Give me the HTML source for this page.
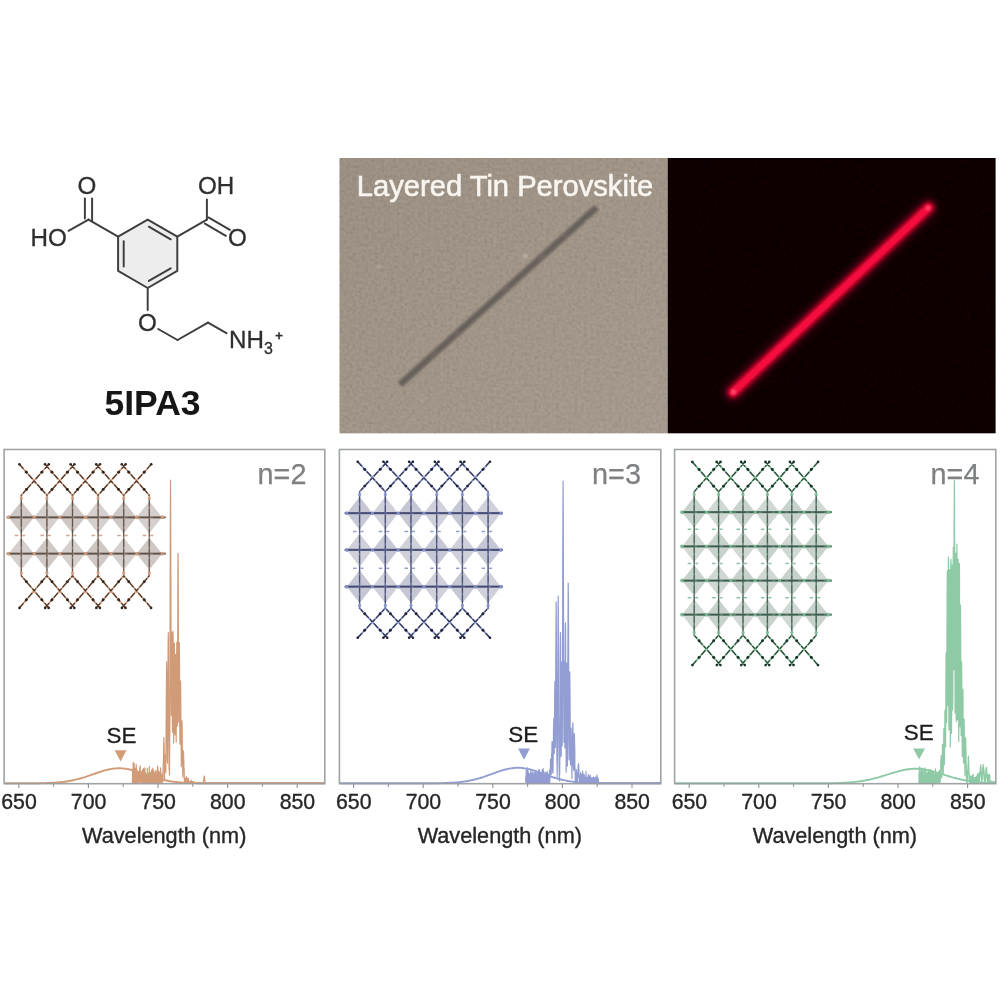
<!DOCTYPE html>
<html lang="en"><head><meta charset="utf-8"><title>Layered Tin Perovskite 5IPA3</title>
<style>html,body{margin:0;padding:0;background:#fff;}body{width:1000px;height:995px;overflow:hidden;}svg{display:block;}</style>
</head><body>
<svg width="1000" height="995" viewBox="0 0 1000 995">
<defs>
<linearGradient id="tanGrad" x1="0" y1="0" x2="1" y2="1"><stop offset="0" stop-color="#000" stop-opacity="0.035"/><stop offset="0.5" stop-color="#000" stop-opacity="0"/><stop offset="0.5" stop-color="#fff" stop-opacity="0"/><stop offset="1" stop-color="#fff" stop-opacity="0.05"/></linearGradient>
<filter id="b04" x="-5%" y="-20%" width="110%" height="140%"><feGaussianBlur stdDeviation="0.4"/></filter>
<filter id="b055" x="-2%" y="-2%" width="104%" height="104%"><feGaussianBlur stdDeviation="0.7"/></filter>
<filter id="b05p" x="-2%" y="-2%" width="104%" height="104%"><feGaussianBlur stdDeviation="0.55"/></filter>
<filter id="b05" x="-5%" y="-5%" width="110%" height="110%"><feGaussianBlur stdDeviation="0.5"/></filter>
<filter id="b06" x="-5%" y="-5%" width="110%" height="110%"><feGaussianBlur stdDeviation="0.75"/></filter>
<filter id="b08" x="-20%" y="-20%" width="140%" height="140%"><feGaussianBlur stdDeviation="0.8"/></filter>
<filter id="b1" x="-20%" y="-20%" width="140%" height="140%"><feGaussianBlur stdDeviation="1.0"/></filter>
<filter id="b2" x="-20%" y="-20%" width="140%" height="140%"><feGaussianBlur stdDeviation="2.2"/></filter>
<filter id="b5" x="-30%" y="-30%" width="160%" height="160%"><feGaussianBlur stdDeviation="5"/></filter>
<filter id="grainT" color-interpolation-filters="sRGB" x="0" y="0" width="100%" height="100%"><feTurbulence type="fractalNoise" baseFrequency="0.32" numOctaves="2" seed="3" result="n"/><feColorMatrix in="n" type="matrix" values="0 0 0 0 0.54  0 0 0 0 0.50  0 0 0 0 0.45  1.2 1.2 1.2 0 -1.45"/><feComposite in2="SourceGraphic" operator="in"/></filter>
<filter id="grainD" color-interpolation-filters="sRGB" x="0" y="0" width="100%" height="100%"><feTurbulence type="fractalNoise" baseFrequency="0.4" numOctaves="2" seed="8" result="n"/><feColorMatrix in="n" type="matrix" values="0 0 0 0 0.13  0 0 0 0 0.01  0 0 0 0 0.03  2.0 1.0 1.0 0 -1.7"/><feComposite in2="SourceGraphic" operator="in"/></filter>
</defs>
<rect width="1000" height="995" fill="#ffffff"/>
<g filter="url(#b055)">
<polygon points="147.7,219.6 177.3,236.7 177.3,270.9 147.7,288.0 118.1,270.9 118.1,236.7" fill="#ededed" stroke="#3d3d3d" stroke-width="1.95" stroke-linejoin="round"/>
<g stroke="#3d3d3d" stroke-width="1.95" stroke-linecap="round" fill="none">
<line x1="148.8" y1="226.7" x2="170.7" y2="239.3"/>
<line x1="170.7" y1="268.3" x2="148.8" y2="280.9"/>
<line x1="123.7" y1="266.5" x2="123.7" y2="241.1"/>
<line x1="118.1" y1="236.7" x2="88.5" y2="219.6"/>
<line x1="84.9" y1="218.6" x2="84.9" y2="198.5"/>
<line x1="92.1" y1="221.1" x2="92.1" y2="198.5"/>
<line x1="88.5" y1="219.6" x2="68.5" y2="230.8"/>
<line x1="177.3" y1="236.7" x2="206.9" y2="219.6"/>
<line x1="206.9" y1="219.6" x2="206.9" y2="199.5"/>
<line x1="208.4" y1="217.4" x2="229.9" y2="229.8"/>
<line x1="204.9" y1="223.6" x2="225.9" y2="235.8"/>
<line x1="147.7" y1="288.0" x2="147.7" y2="310.0"/>
<line x1="158.2" y1="329.0" x2="177.5" y2="340.0"/>
<line x1="177.5" y1="340.0" x2="208.0" y2="322.6"/>
<line x1="208.0" y1="322.6" x2="226.5" y2="333.2"/>
</g>
<g font-family='"Liberation Sans", Arial, Helvetica, sans-serif' font-size="24.2" fill="#2e2e2e" stroke="#2e2e2e" stroke-width="0.3">
<text x="86.8" y="194.3" text-anchor="middle">O</text>
<text x="30.6" y="246.2">HO</text>
<text x="198.0" y="194.4">OH</text>
<text x="237.5" y="246.0" text-anchor="middle">O</text>
<text x="147.5" y="331.0" text-anchor="middle">O</text>
<text x="229" y="348">NH<tspan font-size="16" dy="6">3</tspan><tspan font-size="13" font-weight="bold" dy="-14.5" dx="2.5">+</tspan></text>
</g>
<text x="152.5" y="415" text-anchor="middle" font-family='"Liberation Sans", Arial, Helvetica, sans-serif' font-weight="bold" font-size="35.5" fill="#151515">5IPA3</text>
</g>
<g filter="url(#b05p)">
<rect x="339.5" y="158.0" width="328.2" height="275.3" fill="#a5998c"/>
<rect x="339.5" y="158.0" width="328.2" height="275.3" fill="#9b9084" filter="url(#grainT)" opacity="0.5"/>
<rect x="339.5" y="158.0" width="328.2" height="275.3" fill="url(#tanGrad)"/>
<rect x="667.7" y="158.0" width="327.9" height="275.3" fill="#0a0103"/>
<rect x="669.7" y="160.0" width="323.9" height="271.3" fill="#0b0204" filter="url(#grainD)" opacity="0.55"/>
<g filter="url(#b08)">
<line x1="400.0" y1="384.6" x2="596.6" y2="207.4" stroke="#6f6861" stroke-width="7.0" stroke-linecap="butt"/>
<line x1="400.0" y1="384.6" x2="596.6" y2="207.4" stroke="#5d5751" stroke-width="2.0" stroke-linecap="butt" stroke-dasharray="40 9 25 5 60 7" opacity="0.7"/>
</g>
<circle cx="525.5" cy="256.0" r="2.2" fill="#d8d2c8" opacity="0.50" filter="url(#b08)"/>
<circle cx="378.5" cy="266.5" r="2.2" fill="#d8d2c8" opacity="0.25" filter="url(#b08)"/>
<circle cx="629.5" cy="242.5" r="1.4" fill="#d8d2c8" opacity="0.35" filter="url(#b08)"/>
<circle cx="421.5" cy="400.0" r="1.6" fill="#d8d2c8" opacity="0.30" filter="url(#b08)"/>
<circle cx="403.5" cy="398.0" r="1.3" fill="#d8d2c8" opacity="0.25" filter="url(#b08)"/>
<circle cx="587.0" cy="221.0" r="1.5" fill="#d8d2c8" opacity="0.20" filter="url(#b08)"/>
<text x="356.8" y="195.6" font-family='"Liberation Sans", Arial, Helvetica, sans-serif' font-size="29.15" fill="#f8f5f0" stroke="#f8f5f0" stroke-width="0.6" filter="url(#b04)">Layered Tin Perovskite</text>
<line x1="733.0" y1="392.3" x2="928.5" y2="207.6" stroke="#7a0018" stroke-width="17" stroke-linecap="round" filter="url(#b5)" opacity="0.6"/>
<line x1="733.0" y1="392.3" x2="928.5" y2="207.6" stroke="#c4002a" stroke-width="11.5" stroke-linecap="round" filter="url(#b2)"/>
<line x1="733.0" y1="392.3" x2="928.5" y2="207.6" stroke="#f60c40" stroke-width="7.0" stroke-linecap="round" filter="url(#b1)"/>
<circle cx="733.5" cy="391.8" r="2.6" fill="#ff4a6e" filter="url(#b1)"/>
<circle cx="928.0" cy="208.1" r="2.4" fill="#ff4a6e" filter="url(#b1)"/>
</g>
<g filter="url(#b055)">
<rect x="4.1" y="449.5" width="320.7" height="334.2" fill="#fff"/>
<g stroke="#8b8f92" stroke-width="1.1">
<line x1="18.8" y1="783.7" x2="18.8" y2="788.1"/>
<line x1="53.6" y1="783.7" x2="53.6" y2="786.7"/>
<line x1="88.4" y1="783.7" x2="88.4" y2="788.1"/>
<line x1="123.2" y1="783.7" x2="123.2" y2="786.7"/>
<line x1="158.0" y1="783.7" x2="158.0" y2="788.1"/>
<line x1="192.8" y1="783.7" x2="192.8" y2="786.7"/>
<line x1="227.6" y1="783.7" x2="227.6" y2="788.1"/>
<line x1="262.4" y1="783.7" x2="262.4" y2="786.7"/>
<line x1="297.2" y1="783.7" x2="297.2" y2="788.1"/>
</g>
<g font-family='"Liberation Sans", Arial, Helvetica, sans-serif' font-size="21.3" fill="#262626" stroke="#262626" stroke-width="0.35" text-anchor="middle">
<text x="19.0" y="809.2">650</text>
<text x="88.6" y="809.2">700</text>
<text x="158.2" y="809.2">750</text>
<text x="227.8" y="809.2">800</text>
<text x="297.4" y="809.2">850</text>
<text x="164.2" y="843" font-size="21.7">Wavelength (nm)</text>
</g>
<clipPath id="clip1"><rect x="4.1" y="449.5" width="320.7" height="335.4"/></clipPath>
<g clip-path="url(#clip1)" fill="none" stroke="#d29b78" stroke-linejoin="round">
<polyline points="4.9,783.3 6.3,783.3 7.7,783.3 9.1,783.3 10.4,783.3 11.8,783.3 13.2,783.3 14.6,783.3 16.0,783.3 17.4,783.3 18.8,783.3 20.2,783.3 21.6,783.3 23.0,783.3 24.4,783.3 25.8,783.3 27.2,783.3 28.5,783.3 29.9,783.3 31.3,783.3 32.7,783.2 34.1,783.2 35.5,783.2 36.9,783.2 38.3,783.2 39.7,783.2 41.1,783.1 42.5,783.1 43.9,783.1 45.2,783.1 46.6,783.0 48.0,783.0 49.4,782.9 50.8,782.9 52.2,782.8 53.6,782.7 55.0,782.6 56.4,782.5 57.8,782.4 59.2,782.3 60.6,782.2 62.0,782.0 63.3,781.9 64.7,781.7 66.1,781.5 67.5,781.3 68.9,781.0 70.3,780.8 71.7,780.5 73.1,780.2 74.5,779.9 75.9,779.6 77.3,779.3 78.7,778.9 80.0,778.5 81.4,778.1 82.8,777.7 84.2,777.3 85.6,776.8 87.0,776.4 88.4,775.9 89.8,775.4 91.2,774.9 92.6,774.4 94.0,774.0 95.4,773.5 96.8,773.0 98.1,772.5 99.5,772.0 100.9,771.6 102.3,771.1 103.7,770.7 105.1,770.3 106.5,770.0 107.9,769.6 109.3,769.3 110.7,769.1 112.1,768.8 113.5,768.6 114.8,768.5 116.2,768.4 117.6,768.3 119.0,768.3 120.4,768.3 121.8,768.4 123.2,768.5 124.6,768.6 126.0,768.8 127.4,769.1 128.8,769.3 130.2,769.6 131.6,770.0 132.9,770.3 134.3,770.7 135.7,771.1 137.1,771.6 138.5,772.0 139.9,772.5 141.3,773.0 142.7,773.5 144.1,774.0 145.5,774.4 146.9,774.9 148.3,775.4 149.6,775.9 151.0,776.4 152.4,776.8 153.8,777.3 155.2,777.7 156.6,778.1 158.0,778.5 159.4,778.9 160.8,779.3 162.2,779.6 163.6,779.9 165.0,780.2 166.4,780.5 167.7,780.8 169.1,781.0 170.5,781.3 171.9,781.5 173.3,781.7 174.7,781.9 176.1,782.0 177.5,782.2 178.9,782.3 180.3,782.4 181.7,782.5 183.1,782.6 184.4,782.7 185.8,782.8 187.2,782.9 188.6,782.9 190.0,783.0 191.4,783.0 192.8,783.1 194.2,783.1 195.6,783.1 197.0,783.1 198.4,783.2 199.8,783.2 201.2,783.2 202.5,783.2 203.9,783.2 205.3,783.2 206.7,783.3 208.1,783.3 209.5,783.3 210.9,783.3 212.3,783.3 213.7,783.3 215.1,783.3 216.5,783.3 217.9,783.3 219.2,783.3 220.6,783.3 222.0,783.3 223.4,783.3 224.8,783.3 226.2,783.3 227.6,783.3 229.0,783.3 230.4,783.3 231.8,783.3 233.2,783.3 234.6,783.3 236.0,783.3 237.3,783.3 238.7,783.3 240.1,783.3 241.5,783.3 242.9,783.3 244.3,783.3 245.7,783.3 247.1,783.3 248.5,783.3 249.9,783.3 251.3,783.3 252.7,783.3 254.0,783.3 255.4,783.3 256.8,783.3 258.2,783.3 259.6,783.3 261.0,783.3 262.4,783.3 263.8,783.3 265.2,783.3 266.6,783.3 268.0,783.3 269.4,783.3 270.8,783.3 272.1,783.3 273.5,783.3 274.9,783.3 276.3,783.3 277.7,783.3 279.1,783.3 280.5,783.3 281.9,783.3 283.3,783.3 284.7,783.3 286.1,783.3 287.5,783.3 288.8,783.3 290.2,783.3 291.6,783.3 293.0,783.3 294.4,783.3 295.8,783.3 297.2,783.3 298.6,783.3 300.0,783.3 301.4,783.3 302.8,783.3 304.2,783.3 305.6,783.3 306.9,783.3 308.3,783.3 309.7,783.3 311.1,783.3 312.5,783.3 313.9,783.3 315.3,783.3 316.7,783.3 318.1,783.3 319.5,783.3 320.9,783.3 322.3,783.3 323.6,783.3 325.0,783.3 326.4,783.3 327.8,783.3 329.2,783.3 330.6,783.3" stroke-width="1.9"/>
<polyline points="132.4,782.4 132.6,769.0 132.7,782.4 132.9,768.5 133.1,783.2 133.2,762.3 133.4,782.2 133.6,770.1 133.7,782.9 133.9,772.7 134.1,782.9 134.2,763.6 134.4,781.7 134.6,772.0 134.7,781.7 134.9,768.4 135.1,783.3 135.2,769.5 135.4,781.8 135.6,771.0 135.7,781.7 135.9,768.2 136.1,782.4 136.2,764.4 136.4,782.1 136.6,770.5 136.7,781.9 136.9,769.2 137.1,782.1 137.2,772.8 137.4,782.6 137.6,773.4 137.7,782.4 137.9,771.4 138.1,782.4 138.2,775.1 138.4,782.0 138.6,774.1 138.7,782.9 138.9,771.8 139.1,782.1 139.2,771.2 139.4,782.0 139.6,767.6 139.7,782.0 139.9,772.3 140.1,782.0 140.2,765.8 140.4,782.0 140.6,772.4 140.7,782.6 140.9,773.6 141.1,782.3 141.2,773.6 141.4,782.1 141.6,772.5 141.7,782.1 141.9,771.0 142.1,781.8 142.2,771.2 142.4,781.8 142.6,769.6 142.7,782.4 142.9,773.8 143.1,782.6 143.2,774.8 143.4,782.0 143.6,768.4 143.7,783.0 143.9,769.0 144.1,782.2 144.2,773.9 144.4,783.0 144.6,772.4 144.7,782.5 144.9,767.8 145.1,782.4 145.2,772.6 145.4,782.7 145.6,772.8 145.8,782.1 145.9,775.1 146.1,782.5 146.3,774.3 146.4,782.6 146.6,775.4 146.8,782.7 146.9,774.4 147.1,783.2 147.3,768.3 147.4,782.8 147.6,775.2 147.8,783.2 147.9,773.3 148.1,782.5 148.3,775.6 148.4,782.4 148.6,775.7 148.8,782.2 148.9,773.1 149.1,782.4 149.3,766.4 149.4,783.0 149.6,773.5 149.8,782.2 149.9,775.2 150.1,782.5 150.3,772.1 150.4,783.2 150.6,775.8 150.8,783.3 150.9,774.6 151.1,782.9 151.3,772.5 151.4,782.3 151.6,770.7 151.8,782.0 151.9,769.4 152.1,781.9 152.3,774.3 152.4,782.2 152.6,772.8 152.8,782.9 152.9,768.0 153.1,782.4 153.3,771.0 153.4,783.0 153.6,770.8 153.8,782.2 153.9,772.4 154.1,783.1 154.3,773.5 154.4,782.2 154.6,773.7 154.8,782.1 154.9,773.4 155.1,782.6 155.3,771.3 155.4,783.2 155.6,775.7 155.8,782.7 155.9,770.2 156.1,782.1 156.3,772.9 156.4,783.0 156.6,775.3 156.8,783.2 156.9,773.4 157.1,782.3 157.3,773.2 157.4,782.5 157.6,766.2 157.8,783.2 157.9,767.2 158.1,781.9 158.3,775.5 158.4,782.5 158.6,775.4 158.8,782.5 158.9,771.4 159.1,782.2 159.3,771.9 159.4,782.0 159.6,774.7 159.8,783.2 159.9,775.2 160.1,782.8 160.3,775.0 160.4,783.0 160.6,767.8 160.8,782.6 161.0,772.3 161.1,783.2 161.3,774.9 161.5,783.2 161.6,775.0 161.8,782.9 162.0,774.7 162.1,782.0 162.3,774.6 162.5,781.9 162.6,774.6 162.8,781.8 163.0,769.5 163.1,778.5 163.3,763.5 163.5,760.1 163.6,744.3 163.8,741.8 163.8,737.5 164.0,743.3 164.1,745.2 164.3,764.8 164.5,760.1 164.6,778.9 164.8,759.4 165.0,768.0 165.1,757.7 165.2,762.6 165.3,755.2 165.5,766.6 165.6,761.5 165.8,772.3 166.0,745.0 166.1,733.4 166.3,698.6 166.5,674.6 166.6,661.9 166.6,663.3 166.8,672.2 167.0,702.3 167.1,728.7 167.3,758.2 167.5,763.1 167.6,752.2 167.8,717.9 168.0,682.1 168.1,646.5 168.3,633.3 168.3,632.7 168.5,647.3 168.6,680.6 168.8,721.2 169.0,748.0 169.1,770.0 169.3,761.8 169.5,775.2 169.6,755.7 169.8,729.2 170.0,672.8 170.1,599.5 170.3,525.8 170.5,483.4 170.5,480.2 170.6,492.4 170.8,548.3 171.0,625.5 171.1,693.0 171.3,715.2 171.5,674.0 171.6,643.2 171.8,632.6 171.8,633.6 172.0,650.8 172.1,688.9 172.3,723.8 172.5,732.2 172.6,692.5 172.8,655.6 173.0,632.0 173.0,631.2 173.1,636.7 173.3,667.7 173.5,703.9 173.6,743.0 173.8,716.1 174.0,682.7 174.1,651.5 174.3,643.2 174.3,642.8 174.5,660.8 174.6,692.3 174.8,730.9 175.0,734.9 175.1,708.3 175.3,674.0 175.5,656.7 175.5,654.4 175.7,660.6 175.8,684.1 176.0,719.7 176.2,742.1 176.3,719.8 176.5,680.9 176.7,652.5 176.8,642.3 176.8,643.6 177.0,659.4 177.2,695.1 177.3,726.1 177.5,706.3 177.7,648.0 177.8,590.3 178.0,555.6 178.0,553.3 178.2,563.0 178.3,608.4 178.5,667.5 178.7,722.1 178.8,717.4 179.0,682.7 179.2,651.8 179.3,643.2 179.3,642.7 179.5,660.8 179.7,693.4 179.8,730.8 180.0,744.2 180.2,724.8 180.3,697.1 180.5,684.3 180.6,680.9 180.7,687.6 180.8,704.4 181.0,733.6 181.2,746.8 181.3,766.7 181.5,747.7 181.7,737.6 181.8,722.3 181.9,723.2 182.0,720.9 182.2,732.5 182.3,742.9 182.5,762.8 182.7,765.2 182.8,776.9 183.0,765.6 183.2,764.0 183.3,752.2 183.5,756.5 183.5,750.9 183.7,760.5 183.8,759.2 184.0,772.8 184.2,768.8 184.3,780.6 184.5,777.6 184.7,782.6 184.8,778.2 185.0,783.2 185.2,778.3 185.3,782.9 185.5,780.0 185.7,783.2 185.8,779.1 186.0,783.3 186.2,776.9 186.3,782.9 186.5,776.6 186.7,783.3 186.8,778.0 187.0,783.3 187.2,779.6 187.3,783.3 187.5,780.2 187.7,783.0 187.8,779.9 188.0,782.8 188.2,778.2 188.3,782.7 188.5,778.6 188.7,783.2 188.8,781.5 189.0,783.1 189.2,781.7 189.3,783.1 189.5,781.9 189.7,783.1 189.8,781.6 190.0,783.2 190.2,781.4 190.4,783.3 190.5,781.8 190.7,783.1 190.9,781.5 191.0,783.2 191.2,780.2 191.4,783.2 191.5,781.8 191.7,783.3 191.9,781.7 192.0,783.3 192.2,781.8 192.4,783.2 192.5,781.7 192.7,783.2 192.9,781.5 193.0,783.2 193.2,781.6 193.4,783.1 193.5,782.0 193.7,783.2 193.9,781.8 194.0,783.2 194.2,783.0 194.4,783.3 194.5,783.0 194.7,783.3 194.9,783.0 195.0,783.3 195.2,782.8 195.4,783.3 195.5,782.9 195.7,783.3 195.9,783.0 196.0,783.3 196.2,783.0 196.4,783.3 196.5,782.6 196.7,783.3 196.9,783.1 197.0,783.3 197.2,782.9 197.4,783.3 197.5,783.1 197.7,783.3 197.9,783.0 198.0,783.3 198.2,782.9 198.4,783.3 198.5,782.8 198.7,783.3 198.9,783.1 199.0,783.3 199.2,782.8 199.4,783.3 199.5,782.9 199.7,783.3 199.9,782.8 200.0,783.3 200.2,782.9 200.4,783.3 200.5,783.0 200.7,783.3 200.9,783.1 201.0,783.3 201.2,783.0 201.4,783.3 201.5,783.0 201.7,783.3 201.9,782.9 202.0,783.3 202.2,783.1 202.4,783.3 202.5,783.1 202.7,783.3 202.9,782.9 203.0,783.1 203.2,782.5 203.4,782.3 203.5,780.9 203.7,779.9 203.9,777.8 204.0,776.8 204.2,776.0 204.2,776.3 204.4,776.5 204.5,778.2 204.7,779.5 204.9,781.3 205.0,782.0 205.2,782.9 205.4,782.8 205.6,783.2 205.7,782.9 205.9,783.3 206.1,783.0 206.2,783.3 206.4,783.0 206.6,783.3 206.7,782.9 206.9,783.3 207.1,783.0 207.2,783.3 207.4,783.1 207.6,783.3 207.7,782.7 207.9,783.3 208.1,783.0 208.2,783.3 208.4,783.1 208.6,783.3 208.7,782.8 208.9,783.3 209.1,783.0 209.2,783.3 209.4,782.9 209.6,783.3 209.7,783.0 209.9,783.3 210.1,782.9 210.2,783.3 210.4,783.0 210.6,783.3 210.7,783.0 210.9,783.3 211.1,782.9 211.2,783.3 211.4,783.0 211.6,783.3 211.7,783.0 211.9,783.3 212.1,783.0 212.2,783.3 212.4,783.0 212.6,783.3 212.7,782.8 212.9,783.3 213.1,783.1 213.2,783.3 213.4,782.9 213.6,783.3 213.7,783.0 213.9,783.3 214.1,783.0 214.2,783.3 214.4,783.1 214.6,783.3 214.7,783.0 214.9,783.3 215.1,783.0 215.2,783.3 215.4,782.9 215.6,783.3 215.7,783.0 215.9,783.3 216.1,783.0 216.2,783.3 216.4,782.9 216.6,783.3 216.7,783.0 216.9,783.3 217.1,782.8 217.2,783.3 217.4,782.9 217.6,783.3 217.7,783.0 217.9,783.3 218.1,782.9 218.2,783.3 218.4,783.0 218.6,783.3 218.7,783.0 218.9,783.3 219.1,783.0 219.2,783.3 219.4,783.0 219.6,783.3 219.7,783.0 219.9,783.3 220.1,783.0 220.3,783.3 220.4,782.9 220.6,783.3 220.8,782.9 220.9,783.3 221.1,782.9 221.3,783.3 221.4,782.9 221.6,783.3 221.8,782.9 221.9,783.3 222.1,782.9 222.3,783.3 222.4,782.9 222.6,783.3 222.8,782.9 222.9,783.3 223.1,783.0 223.3,783.3 223.4,783.0 223.6,783.3 223.8,783.0 223.9,783.3 224.1,782.6 224.3,783.3 224.4,783.1 224.6,783.3 224.8,783.1 224.9,783.3 225.1,783.0 225.3,783.3 225.4,782.8 225.6,783.3 225.8,783.0 225.9,783.3 226.1,783.0 226.3,783.3 226.4,782.9 226.6,783.3 226.8,783.0 226.9,783.3 227.1,783.1 227.3,783.3 227.4,783.1 227.6,783.3 227.8,783.0 227.9,783.3 228.1,782.7 228.3,783.3 228.4,783.0 228.6,783.3 228.8,782.9 228.9,783.3 229.1,782.7 229.3,783.3 229.4,782.9 229.6,783.3 229.8,782.9 229.9,783.3 230.1,783.0 230.3,783.3 230.4,783.0 230.6,783.3 230.8,783.0 230.9,783.3 231.1,783.1 231.3,783.3 231.4,782.9 231.6,783.3 231.8,782.9 231.9,783.3 232.1,783.0 232.3,783.3 232.4,783.0 232.6,783.3 232.8,782.9 232.9,783.3 233.1,783.0 233.3,783.3 233.4,782.8 233.6,783.3 233.8,783.1 233.9,783.3 234.1,783.0 234.3,783.3 234.4,783.1 234.6,783.3 234.8,782.9 234.9,783.3 235.1,783.0 235.3,783.3 235.5,783.0 235.6,783.3 235.8,783.0 236.0,783.3 236.1,783.0 236.3,783.3 236.5,783.0 236.6,783.3 236.8,782.9 237.0,783.3 237.1,783.0 237.3,783.3 237.5,783.0 237.6,783.3 237.8,782.9 238.0,783.3 238.1,783.0 238.3,783.3 238.5,783.0 238.6,783.3 238.8,782.9 239.0,783.3 239.1,783.0 239.3,783.3 239.5,783.1 239.6,783.3 239.8,782.9 240.0,783.3 240.1,782.7 240.3,783.3 240.5,782.9 240.6,783.3 240.8,783.0 241.0,783.3 241.1,782.9 241.3,783.3 241.5,783.0 241.6,783.3 241.8,783.1 242.0,783.3 242.1,783.0 242.3,783.3 242.5,783.0 242.6,783.3 242.8,783.1 243.0,783.3 243.1,783.0 243.3,783.3 243.5,782.9 243.6,783.3 243.8,782.8 244.0,783.3 244.1,782.8 244.3,783.3 244.5,783.0 244.6,783.3 244.8,783.0 245.0,783.3 245.1,783.0 245.3,783.3 245.5,783.0 245.6,783.3 245.8,783.0 246.0,783.3 246.1,782.9 246.3,783.3 246.5,783.0 246.6,783.3 246.8,782.9 247.0,783.3 247.1,782.9 247.3,783.3 247.5,783.1 247.6,783.3 247.8,782.9 248.0,783.3 248.1,782.9 248.3,783.3 248.5,782.8 248.6,783.3 248.8,783.1 249.0,783.3 249.1,782.9 249.3,783.3 249.5,783.0 249.6,783.3 249.8,783.0 250.0,783.3 250.2,782.9 250.3,783.3 250.5,783.1 250.7,783.3 250.8,783.0 251.0,783.3 251.2,783.1 251.3,783.3 251.5,782.9 251.7,783.3 251.8,783.0 252.0,783.3 252.2,783.0 252.3,783.3 252.5,782.9 252.7,783.3 252.8,783.0 253.0,783.3 253.2,782.9 253.3,783.3 253.5,782.9 253.7,783.3 253.8,783.0 254.0,783.3 254.2,783.0 254.3,783.3 254.5,783.1 254.7,783.3 254.8,783.0 255.0,783.3 255.2,783.1 255.3,783.3 255.5,783.0 255.7,783.3 255.8,783.0 256.0,783.3 256.2,783.0 256.3,783.3 256.5,783.0 256.7,783.3 256.8,782.9 257.0,783.3 257.2,782.9 257.3,783.3 257.5,782.8 257.7,783.3 257.8,783.0 258.0,783.3 258.2,783.0 258.3,783.3 258.5,783.0 258.7,783.3 258.8,783.1 259.0,783.3 259.2,783.0 259.3,783.3 259.5,782.9 259.7,783.3 259.8,782.8 260.0,783.3 260.2,782.9 260.3,783.3 260.5,783.0 260.7,783.3 260.8,782.8 261.0,783.3 261.2,783.1 261.3,783.3 261.5,783.0 261.7,783.3 261.8,783.0 262.0,783.3 262.2,783.1 262.3,783.3 262.5,782.9 262.7,783.3 262.8,783.0 263.0,783.3 263.2,783.0 263.3,783.3 263.5,783.0 263.7,783.3 263.8,783.0 264.0,783.3 264.2,783.0 264.3,783.3 264.5,782.8 264.7,783.3 264.8,782.9 265.0,783.3 265.2,782.9 265.4,783.3 265.5,783.0 265.7,783.3 265.9,783.0 266.0,783.3 266.2,783.0 266.4,783.3 266.5,783.1 266.7,783.3 266.9,783.0 267.0,783.3 267.2,783.0 267.4,783.3 267.5,783.1 267.7,783.3 267.9,783.0 268.0,783.3 268.2,783.0 268.4,783.3 268.5,783.0 268.7,783.3 268.9,783.1 269.0,783.3 269.2,783.0 269.4,783.3 269.5,783.0 269.7,783.3 269.9,783.0 270.0,783.3 270.2,782.9 270.4,783.3 270.5,782.9 270.7,783.3 270.9,782.8 271.0,783.3 271.2,782.9 271.4,783.3 271.5,782.9 271.7,783.3 271.9,783.0 272.0,783.3 272.2,782.9 272.4,783.3 272.5,782.8 272.7,783.3 272.9,783.0 273.0,783.3 273.2,783.0 273.4,783.3 273.5,783.0 273.7,783.3 273.9,782.9 274.0,783.3 274.2,783.0 274.4,783.3 274.5,783.0 274.7,783.3 274.9,783.1 275.0,783.3 275.2,782.9 275.4,783.3 275.5,782.9 275.7,783.3 275.9,783.0 276.0,783.3 276.2,783.0 276.4,783.3 276.5,783.0 276.7,783.3 276.9,782.9 277.0,783.3 277.2,783.1 277.4,783.3 277.5,783.0 277.7,783.3 277.9,782.9 278.0,783.3 278.2,782.9 278.4,783.3 278.5,783.0 278.7,783.3 278.9,783.0 279.0,783.3 279.2,783.0 279.4,783.3 279.5,782.9 279.7,783.3 279.9,782.9 280.1,783.3 280.2,783.0 280.4,783.3 280.6,783.0 280.7,783.3 280.9,783.0 281.1,783.3 281.2,783.0 281.4,783.3 281.6,783.0 281.7,783.3 281.9,782.9 282.1,783.3 282.2,783.0 282.4,783.3 282.6,783.0 282.7,783.3 282.9,783.0 283.1,783.3 283.2,782.9 283.4,783.3 283.6,783.0 283.7,783.3 283.9,783.0 284.1,783.3 284.2,783.0 284.4,783.3 284.6,783.0 284.7,783.3 284.9,783.0 285.1,783.3 285.2,783.0 285.4,783.3 285.6,783.1 285.7,783.3 285.9,782.9 286.1,783.3 286.2,782.9 286.4,783.3 286.6,783.0 286.7,783.3 286.9,782.9 287.1,783.3 287.2,782.8 287.4,783.3 287.6,782.9 287.7,783.3 287.9,783.0 288.1,783.3 288.2,782.9 288.4,783.3 288.6,783.0 288.7,783.3 288.9,783.0 289.1,783.3 289.2,783.0 289.4,783.3 289.6,783.0 289.7,783.3 289.9,782.9 290.1,783.3 290.2,783.0 290.4,783.3 290.6,782.9 290.7,783.3 290.9,783.1 291.1,783.3 291.2,783.0 291.4,783.3 291.6,783.0 291.7,783.3 291.9,783.1 292.1,783.3 292.2,782.8 292.4,783.3 292.6,783.0 292.7,783.3 292.9,783.0 293.1,783.3 293.2,783.0 293.4,783.3 293.6,782.9 293.7,783.3 293.9,783.1 294.1,783.3 294.2,783.0 294.4,783.3 294.6,782.9 294.8,783.3 294.9,783.0 295.1,783.3 295.3,783.1 295.4,783.3 295.6,783.0 295.8,783.3 295.9,783.1 296.1,783.3 296.3,783.1 296.4,783.3 296.6,783.0 296.8,783.3 296.9,782.8 297.1,783.3 297.3,783.0 297.4,783.3 297.6,783.0 297.8,783.3 297.9,783.0 298.1,783.3 298.3,782.9 298.4,783.3 298.6,782.9 298.8,783.3 298.9,782.9 299.1,783.3 299.3,783.0 299.4,783.3 299.6,782.9 299.8,783.3 299.9,782.9 300.1,783.3 300.3,783.0 300.4,783.3 300.6,783.0 300.8,783.3 300.9,782.9 301.1,783.3 301.3,782.8 301.4,783.3 301.6,783.0 301.8,783.3 301.9,783.0 302.1,783.3 302.3,783.0 302.4,783.3 302.6,783.0 302.8,783.3 302.9,783.0 303.1,783.3 303.3,783.0 303.4,783.3 303.6,783.0 303.8,783.3 303.9,783.1 304.1,783.3 304.3,782.9 304.4,783.3 304.6,782.9 304.8,783.3 304.9,783.0 305.1,783.3 305.3,783.0 305.4,783.3 305.6,783.0 305.8,783.3 305.9,782.9 306.1,783.3 306.3,782.9 306.4,783.3 306.6,783.0 306.8,783.3 306.9,783.0 307.1,783.3 307.3,783.0 307.4,783.3 307.6,783.0 307.8,783.3 307.9,782.9 308.1,783.3 308.3,783.0 308.4,783.3 308.6,783.0 308.8,783.3 308.9,782.8 309.1,783.3 309.3,782.9 309.4,783.3 309.6,782.9 309.8,783.3 310.0,783.0 310.1,783.3 310.3,783.0 310.5,783.3 310.6,783.1 310.8,783.3 311.0,783.0 311.1,783.3 311.3,783.1 311.5,783.3 311.6,782.8 311.8,783.3 312.0,783.0 312.1,783.3 312.3,783.0 312.5,783.3 312.6,783.0 312.8,783.3 313.0,783.0 313.1,783.3 313.3,783.0 313.5,783.3 313.6,782.8 313.8,783.3 314.0,782.9 314.1,783.3 314.3,783.0 314.5,783.3 314.6,783.0 314.8,783.3 315.0,782.9 315.1,783.3 315.3,782.9 315.5,783.3 315.6,783.0 315.8,783.3 316.0,783.0 316.1,783.3 316.3,783.0 316.5,783.3 316.6,782.8 316.8,783.3 317.0,782.9 317.1,783.3 317.3,783.0 317.5,783.3 317.6,783.0 317.8,783.3 318.0,783.0 318.1,783.3 318.3,783.0 318.5,783.3 318.6,783.0 318.8,783.3 319.0,783.1 319.1,783.3 319.3,783.0 319.5,783.3 319.6,783.0 319.8,783.3 320.0,783.0 320.1,783.3 320.3,783.0 320.5,783.3 320.6,783.0 320.8,783.3 321.0,783.0 321.1,783.3 321.3,782.8 321.5,783.3 321.6,783.1 321.8,783.3 322.0,783.0 322.1,783.3 322.3,782.8 322.5,783.3 322.6,783.0 322.8,783.3 323.0,783.1 323.1,783.3 323.3,783.1 323.5,783.3 323.6,783.0 323.8,783.3 324.0,783.1 324.1,783.3 324.3,782.9 324.5,783.3 324.7,782.9 324.8,783.3 325.0,782.9 325.2,783.3 325.3,782.8 325.5,783.3 325.7,782.9 325.8,783.3 326.0,783.0 326.2,783.3 326.3,782.9 326.5,783.3 326.7,783.0 326.8,783.3 327.0,783.0 327.2,783.3 327.3,783.0 327.5,783.3 327.7,783.0" stroke-width="1.2"/>
</g>
<rect x="4.1" y="449.5" width="320.7" height="334.2" fill="none" stroke="#989b9e" stroke-width="1.6" opacity="0.92"/>
<text x="121.5" y="743.3" font-family='"Liberation Sans", Arial, Helvetica, sans-serif' font-size="22.4" fill="#1c1c1c" stroke="#1c1c1c" stroke-width="0.3" text-anchor="middle">SE</text>
<polygon points="114.7,750.2 126.5,750.2 120.6,761.4" fill="#d29b78"/>
<text x="257.6" y="484" font-family='"Liberation Sans", Arial, Helvetica, sans-serif' font-size="28.8" fill="#7e8083" stroke="#7e8083" stroke-width="0.25">n=2</text>
<g filter="url(#b06)"><polygon points="8.5,517.3 21.3,501.3 34.1,517.3 21.3,533.3" fill="#a89c96" opacity="0.56"/>
<polygon points="34.1,517.3 46.9,501.3 59.7,517.3 46.9,533.3" fill="#a89c96" opacity="0.48"/>
<polygon points="59.7,517.3 72.5,501.3 85.3,517.3 72.5,533.3" fill="#a89c96" opacity="0.56"/>
<polygon points="85.3,517.3 98.1,501.3 110.9,517.3 98.1,533.3" fill="#a89c96" opacity="0.48"/>
<polygon points="110.9,517.3 123.7,501.3 136.5,517.3 123.7,533.3" fill="#a89c96" opacity="0.56"/>
<polygon points="136.5,517.3 149.3,501.3 162.1,517.3 149.3,533.3" fill="#a89c96" opacity="0.48"/>
<polygon points="8.5,553.7 21.3,537.7 34.1,553.7 21.3,569.7" fill="#a89c96" opacity="0.48"/>
<polygon points="34.1,553.7 46.9,537.7 59.7,553.7 46.9,569.7" fill="#a89c96" opacity="0.56"/>
<polygon points="59.7,553.7 72.5,537.7 85.3,553.7 72.5,569.7" fill="#a89c96" opacity="0.48"/>
<polygon points="85.3,553.7 98.1,537.7 110.9,553.7 98.1,569.7" fill="#a89c96" opacity="0.56"/>
<polygon points="110.9,553.7 123.7,537.7 136.5,553.7 123.7,569.7" fill="#a89c96" opacity="0.48"/>
<polygon points="136.5,553.7 149.3,537.7 162.1,553.7 149.3,569.7" fill="#a89c96" opacity="0.56"/>
<path d="M19.4 464.3 L46.9 495.3 M45.0 464.3 L72.5 495.3 M48.8 464.3 L21.3 495.3 M70.6 464.3 L98.1 495.3 M74.4 464.3 L46.9 495.3 M96.2 464.3 L123.7 495.3 M100.0 464.3 L72.5 495.3 M121.8 464.3 L149.3 495.3 M125.6 464.3 L98.1 495.3 M151.2 464.3 L123.7 495.3 M19.5 607.9 L46.9 575.7 M45.1 607.9 L72.5 575.7 M48.7 607.9 L21.3 575.7 M70.7 607.9 L98.1 575.7 M74.3 607.9 L46.9 575.7 M96.3 607.9 L123.7 575.7 M99.9 607.9 L72.5 575.7 M121.9 607.9 L149.3 575.7 M125.5 607.9 L98.1 575.7 M151.1 607.9 L123.7 575.7" stroke="#d39a78" stroke-width="1.7" fill="none" stroke-linecap="round" opacity="0.95"/>
<path d="M19.4 464.3 L46.9 495.3 M45.0 464.3 L72.5 495.3 M48.8 464.3 L21.3 495.3 M70.6 464.3 L98.1 495.3 M74.4 464.3 L46.9 495.3 M96.2 464.3 L123.7 495.3 M100.0 464.3 L72.5 495.3 M121.8 464.3 L149.3 495.3 M125.6 464.3 L98.1 495.3 M151.2 464.3 L123.7 495.3 M19.5 607.9 L46.9 575.7 M45.1 607.9 L72.5 575.7 M48.7 607.9 L21.3 575.7 M70.7 607.9 L98.1 575.7 M74.3 607.9 L46.9 575.7 M96.3 607.9 L123.7 575.7 M99.9 607.9 L72.5 575.7 M121.9 607.9 L149.3 575.7 M125.5 607.9 L98.1 575.7 M151.1 607.9 L123.7 575.7" stroke="#33261f" stroke-width="1.25" fill="none" stroke-dasharray="6.2 2.2 3.5 1.6" opacity="0.85"/>
<g fill="#33261f">
<circle cx="26.4" cy="472.2" r="1.45"/>
<circle cx="41.8" cy="489.5" r="1.45"/>
<circle cx="52.0" cy="472.2" r="1.45"/>
<circle cx="67.4" cy="489.5" r="1.45"/>
<circle cx="41.8" cy="472.2" r="1.45"/>
<circle cx="26.4" cy="489.5" r="1.45"/>
<circle cx="77.6" cy="472.2" r="1.45"/>
<circle cx="93.0" cy="489.5" r="1.45"/>
<circle cx="67.4" cy="472.2" r="1.45"/>
<circle cx="52.0" cy="489.5" r="1.45"/>
<circle cx="103.2" cy="472.2" r="1.45"/>
<circle cx="118.6" cy="489.5" r="1.45"/>
<circle cx="93.0" cy="472.2" r="1.45"/>
<circle cx="77.6" cy="489.5" r="1.45"/>
<circle cx="128.8" cy="472.2" r="1.45"/>
<circle cx="144.2" cy="489.5" r="1.45"/>
<circle cx="118.6" cy="472.2" r="1.45"/>
<circle cx="103.2" cy="489.5" r="1.45"/>
<circle cx="144.2" cy="472.2" r="1.45"/>
<circle cx="128.8" cy="489.5" r="1.45"/>
<circle cx="26.4" cy="599.8" r="1.45"/>
<circle cx="41.8" cy="581.7" r="1.45"/>
<circle cx="52.0" cy="599.8" r="1.45"/>
<circle cx="67.4" cy="581.7" r="1.45"/>
<circle cx="41.8" cy="599.8" r="1.45"/>
<circle cx="26.4" cy="581.7" r="1.45"/>
<circle cx="77.6" cy="599.8" r="1.45"/>
<circle cx="93.0" cy="581.7" r="1.45"/>
<circle cx="67.4" cy="599.8" r="1.45"/>
<circle cx="52.0" cy="581.7" r="1.45"/>
<circle cx="103.2" cy="599.8" r="1.45"/>
<circle cx="118.6" cy="581.7" r="1.45"/>
<circle cx="93.0" cy="599.8" r="1.45"/>
<circle cx="77.6" cy="581.7" r="1.45"/>
<circle cx="128.8" cy="599.8" r="1.45"/>
<circle cx="144.2" cy="581.7" r="1.45"/>
<circle cx="118.6" cy="599.8" r="1.45"/>
<circle cx="103.2" cy="581.7" r="1.45"/>
<circle cx="144.2" cy="599.8" r="1.45"/>
<circle cx="128.8" cy="581.7" r="1.45"/>
<circle cx="19.4" cy="464.3" r="1.3"/>
<circle cx="45.0" cy="464.3" r="1.3"/>
<circle cx="48.8" cy="464.3" r="1.3"/>
<circle cx="70.6" cy="464.3" r="1.3"/>
<circle cx="74.4" cy="464.3" r="1.3"/>
<circle cx="96.2" cy="464.3" r="1.3"/>
<circle cx="100.0" cy="464.3" r="1.3"/>
<circle cx="121.8" cy="464.3" r="1.3"/>
<circle cx="125.6" cy="464.3" r="1.3"/>
<circle cx="151.2" cy="464.3" r="1.3"/>
<circle cx="19.5" cy="607.9" r="1.3"/>
<circle cx="45.1" cy="607.9" r="1.3"/>
<circle cx="48.7" cy="607.9" r="1.3"/>
<circle cx="70.7" cy="607.9" r="1.3"/>
<circle cx="74.3" cy="607.9" r="1.3"/>
<circle cx="96.3" cy="607.9" r="1.3"/>
<circle cx="99.9" cy="607.9" r="1.3"/>
<circle cx="121.9" cy="607.9" r="1.3"/>
<circle cx="125.5" cy="607.9" r="1.3"/>
<circle cx="151.1" cy="607.9" r="1.3"/>
</g>
<g stroke-linecap="round" fill="none">
<line x1="21.3" y1="495.3" x2="21.3" y2="575.7" stroke="#7c6a60" stroke-width="1.5" opacity="0.8"/>
<line x1="21.3" y1="499.3" x2="21.3" y2="571.7" stroke="#33261f" stroke-width="0.9" opacity="0.55" stroke-dasharray="7 3"/>
<line x1="46.9" y1="495.3" x2="46.9" y2="575.7" stroke="#7c6a60" stroke-width="1.5" opacity="0.8"/>
<line x1="46.9" y1="499.3" x2="46.9" y2="571.7" stroke="#33261f" stroke-width="0.9" opacity="0.55" stroke-dasharray="7 3"/>
<line x1="72.5" y1="495.3" x2="72.5" y2="575.7" stroke="#7c6a60" stroke-width="1.5" opacity="0.8"/>
<line x1="72.5" y1="499.3" x2="72.5" y2="571.7" stroke="#33261f" stroke-width="0.9" opacity="0.55" stroke-dasharray="7 3"/>
<line x1="98.1" y1="495.3" x2="98.1" y2="575.7" stroke="#7c6a60" stroke-width="1.5" opacity="0.8"/>
<line x1="98.1" y1="499.3" x2="98.1" y2="571.7" stroke="#33261f" stroke-width="0.9" opacity="0.55" stroke-dasharray="7 3"/>
<line x1="123.7" y1="495.3" x2="123.7" y2="575.7" stroke="#7c6a60" stroke-width="1.5" opacity="0.8"/>
<line x1="123.7" y1="499.3" x2="123.7" y2="571.7" stroke="#33261f" stroke-width="0.9" opacity="0.55" stroke-dasharray="7 3"/>
<line x1="149.3" y1="495.3" x2="149.3" y2="575.7" stroke="#7c6a60" stroke-width="1.5" opacity="0.8"/>
<line x1="149.3" y1="499.3" x2="149.3" y2="571.7" stroke="#33261f" stroke-width="0.9" opacity="0.55" stroke-dasharray="7 3"/>
<line x1="7.5" y1="517.3" x2="165.0" y2="517.3" stroke="#7c6a60" stroke-width="2.3" opacity="0.9"/>
<line x1="10.5" y1="517.3" x2="162.0" y2="517.3" stroke="#33261f" stroke-width="1.0" opacity="0.55" stroke-dasharray="9 4"/>
<line x1="7.5" y1="553.7" x2="165.0" y2="553.7" stroke="#7c6a60" stroke-width="2.3" opacity="0.9"/>
<line x1="10.5" y1="553.7" x2="162.0" y2="553.7" stroke="#33261f" stroke-width="1.0" opacity="0.55" stroke-dasharray="9 4"/>
</g>
<g fill="#d39a78" opacity="0.95">
<ellipse cx="8.5" cy="517.3" rx="1.5" ry="2.0"/>
<ellipse cx="34.1" cy="517.3" rx="1.5" ry="2.0"/>
<ellipse cx="59.7" cy="517.3" rx="1.5" ry="2.0"/>
<ellipse cx="85.3" cy="517.3" rx="1.5" ry="2.0"/>
<ellipse cx="110.9" cy="517.3" rx="1.5" ry="2.0"/>
<ellipse cx="136.5" cy="517.3" rx="1.5" ry="2.0"/>
<ellipse cx="162.1" cy="517.3" rx="1.5" ry="2.0"/>
<ellipse cx="8.5" cy="553.7" rx="1.5" ry="2.0"/>
<ellipse cx="34.1" cy="553.7" rx="1.5" ry="2.0"/>
<ellipse cx="59.7" cy="553.7" rx="1.5" ry="2.0"/>
<ellipse cx="85.3" cy="553.7" rx="1.5" ry="2.0"/>
<ellipse cx="110.9" cy="553.7" rx="1.5" ry="2.0"/>
<ellipse cx="136.5" cy="553.7" rx="1.5" ry="2.0"/>
<ellipse cx="162.1" cy="553.7" rx="1.5" ry="2.0"/>
<circle cx="21.3" cy="498.1" r="1.6"/>
<circle cx="21.3" cy="572.9" r="1.6"/>
<circle cx="46.9" cy="498.1" r="1.6"/>
<circle cx="46.9" cy="572.9" r="1.6"/>
<circle cx="72.5" cy="498.1" r="1.6"/>
<circle cx="72.5" cy="572.9" r="1.6"/>
<circle cx="98.1" cy="498.1" r="1.6"/>
<circle cx="98.1" cy="572.9" r="1.6"/>
<circle cx="123.7" cy="498.1" r="1.6"/>
<circle cx="123.7" cy="572.9" r="1.6"/>
<circle cx="149.3" cy="498.1" r="1.6"/>
<circle cx="149.3" cy="572.9" r="1.6"/>
</g>
<g stroke="#d39a78" stroke-width="1.5" opacity="0.9">
<line x1="14.8" y1="535.5" x2="18.3" y2="535.5"/>
<line x1="22.3" y1="535.5" x2="25.3" y2="535.5"/>
<line x1="40.4" y1="535.5" x2="43.9" y2="535.5"/>
<line x1="47.9" y1="535.5" x2="50.9" y2="535.5"/>
<line x1="66.0" y1="535.5" x2="69.5" y2="535.5"/>
<line x1="73.5" y1="535.5" x2="76.5" y2="535.5"/>
<line x1="91.6" y1="535.5" x2="95.1" y2="535.5"/>
<line x1="99.1" y1="535.5" x2="102.1" y2="535.5"/>
<line x1="117.2" y1="535.5" x2="120.7" y2="535.5"/>
<line x1="124.7" y1="535.5" x2="127.7" y2="535.5"/>
<line x1="142.8" y1="535.5" x2="146.3" y2="535.5"/>
<line x1="150.3" y1="535.5" x2="153.3" y2="535.5"/>
</g></g>
<rect x="339.4" y="449.5" width="321.4" height="334.2" fill="#fff"/>
<g stroke="#8b8f92" stroke-width="1.1">
<line x1="353.6" y1="783.7" x2="353.6" y2="788.1"/>
<line x1="388.4" y1="783.7" x2="388.4" y2="786.7"/>
<line x1="423.2" y1="783.7" x2="423.2" y2="788.1"/>
<line x1="458.0" y1="783.7" x2="458.0" y2="786.7"/>
<line x1="492.8" y1="783.7" x2="492.8" y2="788.1"/>
<line x1="527.6" y1="783.7" x2="527.6" y2="786.7"/>
<line x1="562.4" y1="783.7" x2="562.4" y2="788.1"/>
<line x1="597.2" y1="783.7" x2="597.2" y2="786.7"/>
<line x1="632.0" y1="783.7" x2="632.0" y2="788.1"/>
</g>
<g font-family='"Liberation Sans", Arial, Helvetica, sans-serif' font-size="21.3" fill="#262626" stroke="#262626" stroke-width="0.35" text-anchor="middle">
<text x="353.8" y="809.2">650</text>
<text x="423.4" y="809.2">700</text>
<text x="493.0" y="809.2">750</text>
<text x="562.6" y="809.2">800</text>
<text x="632.2" y="809.2">850</text>
<text x="499.8" y="843" font-size="21.7">Wavelength (nm)</text>
</g>
<clipPath id="clip2"><rect x="339.4" y="449.5" width="321.4" height="335.4"/></clipPath>
<g clip-path="url(#clip2)" fill="none" stroke="#929dd3" stroke-linejoin="round">
<polyline points="339.7,783.3 341.1,783.3 342.5,783.3 343.9,783.3 345.2,783.3 346.6,783.3 348.0,783.3 349.4,783.3 350.8,783.3 352.2,783.3 353.6,783.3 355.0,783.3 356.4,783.3 357.8,783.3 359.2,783.3 360.6,783.3 362.0,783.3 363.3,783.3 364.7,783.3 366.1,783.3 367.5,783.3 368.9,783.3 370.3,783.3 371.7,783.3 373.1,783.3 374.5,783.3 375.9,783.3 377.3,783.3 378.7,783.3 380.0,783.3 381.4,783.3 382.8,783.3 384.2,783.3 385.6,783.3 387.0,783.3 388.4,783.3 389.8,783.3 391.2,783.3 392.6,783.3 394.0,783.3 395.4,783.3 396.8,783.3 398.1,783.3 399.5,783.3 400.9,783.3 402.3,783.3 403.7,783.3 405.1,783.3 406.5,783.3 407.9,783.3 409.3,783.3 410.7,783.3 412.1,783.3 413.5,783.3 414.8,783.3 416.2,783.3 417.6,783.3 419.0,783.3 420.4,783.3 421.8,783.3 423.2,783.3 424.6,783.3 426.0,783.3 427.4,783.3 428.8,783.3 430.2,783.3 431.6,783.2 432.9,783.2 434.3,783.2 435.7,783.2 437.1,783.2 438.5,783.2 439.9,783.1 441.3,783.1 442.7,783.1 444.1,783.0 445.5,783.0 446.9,783.0 448.3,782.9 449.6,782.8 451.0,782.8 452.4,782.7 453.8,782.6 455.2,782.5 456.6,782.4 458.0,782.3 459.4,782.1 460.8,782.0 462.2,781.8 463.6,781.6 465.0,781.4 466.4,781.2 467.7,781.0 469.1,780.7 470.5,780.4 471.9,780.1 473.3,779.8 474.7,779.5 476.1,779.1 477.5,778.8 478.9,778.4 480.3,778.0 481.7,777.5 483.1,777.1 484.4,776.6 485.8,776.1 487.2,775.7 488.6,775.2 490.0,774.7 491.4,774.2 492.8,773.6 494.2,773.1 495.6,772.6 497.0,772.1 498.4,771.7 499.8,771.2 501.2,770.7 502.5,770.3 503.9,769.9 505.3,769.5 506.7,769.2 508.1,768.9 509.5,768.6 510.9,768.4 512.3,768.2 513.7,768.0 515.1,767.9 516.5,767.8 517.9,767.8 519.2,767.8 520.6,767.9 522.0,768.0 523.4,768.2 524.8,768.4 526.2,768.6 527.6,768.9 529.0,769.2 530.4,769.5 531.8,769.9 533.2,770.3 534.6,770.7 536.0,771.2 537.3,771.7 538.7,772.1 540.1,772.6 541.5,773.1 542.9,773.6 544.3,774.2 545.7,774.7 547.1,775.2 548.5,775.7 549.9,776.1 551.3,776.6 552.7,777.1 554.0,777.5 555.4,778.0 556.8,778.4 558.2,778.8 559.6,779.1 561.0,779.5 562.4,779.8 563.8,780.1 565.2,780.4 566.6,780.7 568.0,781.0 569.4,781.2 570.8,781.4 572.1,781.6 573.5,781.8 574.9,782.0 576.3,782.1 577.7,782.3 579.1,782.4 580.5,782.5 581.9,782.6 583.3,782.7 584.7,782.8 586.1,782.8 587.5,782.9 588.8,783.0 590.2,783.0 591.6,783.0 593.0,783.1 594.4,783.1 595.8,783.1 597.2,783.2 598.6,783.2 600.0,783.2 601.4,783.2 602.8,783.2 604.2,783.2 605.6,783.3 606.9,783.3 608.3,783.3 609.7,783.3 611.1,783.3 612.5,783.3 613.9,783.3 615.3,783.3 616.7,783.3 618.1,783.3 619.5,783.3 620.9,783.3 622.3,783.3 623.6,783.3 625.0,783.3 626.4,783.3 627.8,783.3 629.2,783.3 630.6,783.3 632.0,783.3 633.4,783.3 634.8,783.3 636.2,783.3 637.6,783.3 639.0,783.3 640.4,783.3 641.7,783.3 643.1,783.3 644.5,783.3 645.9,783.3 647.3,783.3 648.7,783.3 650.1,783.3 651.5,783.3 652.9,783.3 654.3,783.3 655.7,783.3 657.1,783.3 658.4,783.3 659.8,783.3 661.2,783.3 662.6,783.3 664.0,783.3 665.4,783.3" stroke-width="1.9"/>
<polyline points="525.7,782.1 525.8,776.1 526.0,782.3 526.2,770.1 526.3,782.2 526.5,773.1 526.7,783.2 526.8,771.6 527.0,782.0 527.2,772.8 527.3,783.1 527.5,767.6 527.7,782.8 527.8,772.1 528.0,782.9 528.2,774.0 528.3,782.4 528.5,771.8 528.7,782.5 528.8,776.2 529.0,782.8 529.2,776.7 529.3,782.7 529.5,774.0 529.7,782.9 529.8,776.4 530.0,782.6 530.2,773.3 530.3,782.7 530.5,776.7 530.7,783.2 530.8,769.9 531.0,783.3 531.2,776.8 531.3,782.3 531.5,772.8 531.7,783.1 531.8,773.9 532.0,782.3 532.2,775.4 532.3,782.6 532.5,774.7 532.7,782.7 532.8,771.5 533.0,782.7 533.2,776.1 533.3,783.0 533.5,777.1 533.7,783.2 533.8,775.3 534.0,783.3 534.2,772.7 534.3,782.5 534.5,777.0 534.7,782.4 534.8,773.0 535.0,782.6 535.2,775.6 535.3,782.9 535.5,771.1 535.7,782.9 535.8,776.8 536.0,782.4 536.2,776.1 536.3,782.4 536.5,777.1 536.7,782.9 536.8,772.5 537.0,783.2 537.2,774.8 537.3,782.6 537.5,774.5 537.7,783.1 537.8,775.7 538.0,782.5 538.2,772.0 538.3,782.8 538.5,776.9 538.7,782.8 538.8,769.6 539.0,783.2 539.2,777.0 539.3,782.2 539.5,770.2 539.7,783.2 539.8,772.7 540.0,782.5 540.2,773.2 540.4,782.9 540.5,776.1 540.7,783.1 540.9,775.4 541.0,782.8 541.2,772.6 541.4,782.2 541.5,773.8 541.7,782.8 541.9,776.5 542.0,782.2 542.2,769.5 542.4,782.5 542.5,776.0 542.7,782.6 542.9,775.8 543.0,783.3 543.2,768.7 543.4,782.8 543.5,775.8 543.7,782.8 543.9,771.6 544.0,783.0 544.2,775.4 544.4,782.6 544.5,775.3 544.7,782.5 544.9,775.5 545.0,782.8 545.2,774.2 545.4,782.9 545.5,772.4 545.7,783.1 545.9,775.8 546.0,783.3 546.2,775.8 546.4,782.7 546.5,773.1 546.7,783.2 546.9,774.0 547.0,783.1 547.2,771.4 547.4,782.3 547.5,775.6 547.7,782.7 547.9,775.3 548.0,782.2 548.2,773.9 548.4,782.4 548.5,774.4 548.7,783.3 548.9,776.8 549.0,782.5 549.2,776.4 549.4,783.2 549.5,770.3 549.7,782.6 549.9,772.6 550.0,779.1 550.2,768.5 550.4,769.8 550.5,759.0 550.7,762.6 550.7,758.9 550.9,764.8 551.0,759.6 551.2,774.6 551.4,768.1 551.5,769.7 551.7,753.5 551.9,751.2 552.0,741.6 552.1,744.8 552.2,741.6 552.4,754.0 552.5,756.8 552.7,772.7 552.9,770.7 553.0,773.0 553.2,757.6 553.4,747.6 553.5,729.1 553.7,723.7 553.8,718.5 553.9,725.8 554.0,733.6 554.2,753.5 554.4,742.8 554.5,719.8 554.7,692.5 554.9,683.1 554.9,681.4 555.1,693.9 555.2,717.7 555.4,747.3 555.6,726.1 555.7,685.5 555.9,637.6 556.1,606.7 556.1,601.9 556.2,606.7 556.4,637.6 556.6,685.5 556.7,725.7 556.9,758.1 557.1,766.8 557.2,777.1 557.4,758.0 557.6,744.6 557.7,704.2 557.9,657.2 558.1,613.5 558.2,596.3 558.2,596.0 558.4,613.9 558.6,655.9 558.7,706.4 558.9,739.6 559.1,767.3 559.2,769.6 559.4,781.0 559.6,774.8 559.7,774.0 559.9,750.0 560.1,716.3 560.2,666.6 560.4,635.7 560.5,632.7 560.6,642.9 560.7,682.7 560.9,731.1 561.1,756.5 561.2,754.5 561.4,713.3 561.6,677.3 561.7,662.1 561.7,663.9 561.9,687.1 562.1,731.5 562.2,746.1 562.4,714.8 562.6,654.2 562.7,581.2 562.9,514.4 563.1,482.0 563.1,481.2 563.2,498.7 563.4,556.6 563.6,631.4 563.7,693.9 563.9,742.3 564.1,708.6 564.2,672.5 564.3,661.5 564.4,665.6 564.6,694.5 564.7,737.7 564.9,747.8 565.1,711.8 565.2,659.5 565.4,625.9 565.5,622.8 565.6,633.5 565.7,676.1 565.9,727.5 566.1,756.9 566.2,772.1 566.4,746.2 566.6,710.4 566.7,671.5 566.9,663.2 566.9,663.9 567.1,696.1 567.2,734.3 567.4,766.0 567.6,737.5 567.7,700.9 567.9,647.5 568.1,602.1 568.2,583.0 568.2,583.3 568.4,601.6 568.6,648.5 568.7,698.9 568.9,742.0 569.1,759.8 569.2,748.5 569.4,716.7 569.6,689.2 569.7,671.9 569.8,673.2 569.9,680.4 570.1,708.5 570.3,734.2 570.4,762.4 570.6,764.9 570.8,758.8 570.9,741.2 571.1,734.3 571.2,728.2 571.3,734.4 571.4,739.3 571.6,758.8 571.8,764.0 571.9,778.4 572.1,766.7 572.3,765.6 572.4,747.2 572.6,736.0 572.8,722.7 572.8,724.3 572.9,722.8 573.1,735.7 573.3,744.6 573.4,765.5 573.6,769.2 573.8,770.4 573.9,756.5 574.1,747.2 574.3,735.4 574.4,736.1 574.4,733.7 574.6,743.7 574.8,749.8 574.9,767.3 575.1,770.3 575.3,780.1 575.4,774.7 575.6,782.7 575.8,776.3 575.9,783.0 576.1,774.3 576.3,783.2 576.4,769.6 576.6,782.4 576.8,773.0 576.9,782.8 577.1,776.7 577.3,782.5 577.4,777.4 577.6,782.1 577.8,772.1 577.9,777.7 578.1,766.1 578.3,770.5 578.4,764.3 578.5,767.8 578.6,763.7 578.8,769.6 578.9,768.8 579.1,776.6 579.3,775.1 579.4,781.5 579.6,777.5 579.8,782.3 579.9,777.0 580.1,782.6 580.3,777.1 580.4,783.0 580.6,772.5 580.8,782.7 580.9,776.8 581.1,783.1 581.3,774.4 581.4,782.6 581.6,777.4 581.8,782.8 581.9,775.3 582.1,783.0 582.3,777.3 582.4,782.9 582.6,770.9 582.8,783.1 582.9,774.8 583.1,782.3 583.3,776.7 583.4,782.5 583.6,778.1 583.8,782.4 583.9,774.2 584.1,782.9 584.3,775.0 584.4,782.6 584.6,777.8 584.8,782.9 585.0,777.8 585.1,782.9 585.3,777.3 585.5,783.3 585.6,777.0 585.8,783.0 586.0,771.3 586.1,782.4 586.3,777.9 586.5,783.3 586.6,777.9 586.8,782.5 587.0,777.4 587.1,782.8 587.3,777.4 587.5,783.0 587.6,778.4 587.8,782.6 588.0,777.4 588.1,782.9 588.3,774.6 588.5,783.2 588.6,777.9 588.8,783.1 589.0,779.1 589.1,782.7 589.3,777.6 589.5,782.8 589.6,776.2 589.8,782.9 590.0,778.6 590.1,783.2 590.3,775.0 590.5,783.1 590.6,778.0 590.8,782.7 591.0,778.4 591.1,783.2 591.3,778.5 591.5,782.6 591.6,777.9 591.8,782.7 592.0,778.9 592.1,782.8 592.3,778.4 592.5,782.6 592.6,778.9 592.8,782.7 593.0,777.3 593.1,783.1 593.3,778.8 593.5,782.7 593.6,777.2 593.8,782.8 594.0,779.0 594.1,782.7 594.3,778.8 594.5,783.1 594.6,779.4 594.8,782.9 595.0,777.8 595.1,782.7 595.3,777.4 595.5,783.0 595.6,777.1 595.8,783.3 596.0,779.3 596.1,783.1 596.3,777.9 596.5,783.2 596.6,778.1 596.8,782.9 597.0,775.0 597.1,782.7 597.3,777.1 597.5,783.3 597.6,778.7 597.8,782.6 598.0,778.4 598.1,783.2 598.3,778.6 598.5,783.1 598.6,783.0 598.8,783.3 599.0,782.9 599.1,783.3 599.3,782.9 599.5,783.3 599.6,782.9 599.8,783.3 600.0,782.9 600.2,783.3 600.3,783.0 600.5,783.3 600.7,782.9 600.8,783.3 601.0,782.9 601.2,783.3 601.3,783.0 601.5,783.3 601.7,783.0 601.8,783.3 602.0,783.0 602.2,783.3 602.3,782.8 602.5,783.3 602.7,783.1 602.8,783.3 603.0,782.9 603.2,783.3 603.3,782.9 603.5,783.3 603.7,783.0 603.8,783.3 604.0,783.0 604.2,783.3 604.3,782.9 604.5,783.3 604.7,782.9 604.8,783.3 605.0,782.9 605.2,783.3 605.3,783.0 605.5,783.3 605.7,783.0 605.8,783.3 606.0,782.9 606.2,783.3 606.3,782.9 606.5,783.3 606.7,783.1 606.8,783.3 607.0,783.0 607.2,783.3 607.3,782.8 607.5,783.3 607.7,782.8 607.8,783.3 608.0,783.0 608.2,783.3 608.3,783.0 608.5,783.3 608.7,783.0 608.8,783.3 609.0,783.0 609.2,783.3 609.3,782.8 609.5,783.3 609.7,783.0 609.8,783.3 610.0,783.0 610.2,783.3 610.3,783.0 610.5,783.3 610.7,782.8 610.8,783.3 611.0,783.0 611.2,783.3 611.3,782.9 611.5,783.3 611.7,783.0 611.8,783.3 612.0,783.0 612.2,783.3 612.3,783.0 612.5,783.3 612.7,782.8 612.8,783.3 613.0,782.9 613.2,783.3 613.3,783.0 613.5,783.3 613.7,783.0 613.8,783.3 614.0,782.8 614.2,783.3 614.3,782.8 614.5,783.3 614.7,783.1 614.9,783.3 615.0,783.0 615.2,783.3 615.4,782.8 615.5,783.3 615.7,782.9 615.9,783.3 616.0,782.8 616.2,783.3 616.4,783.0 616.5,783.3 616.7,782.9 616.9,783.3 617.0,782.9 617.2,783.3 617.4,782.9 617.5,783.3 617.7,783.1 617.9,783.3 618.0,782.9 618.2,783.3 618.4,783.0 618.5,783.3 618.7,783.0 618.9,783.3 619.0,783.0 619.2,783.3 619.4,783.0 619.5,783.3 619.7,783.0 619.9,783.3 620.0,783.0 620.2,783.3 620.4,783.0 620.5,783.3 620.7,783.0 620.9,783.3 621.0,783.1 621.2,783.3 621.4,783.0 621.5,783.3 621.7,783.0 621.9,783.3 622.0,783.0 622.2,783.3 622.4,783.0 622.5,783.3 622.7,782.8 622.9,783.3 623.0,783.1 623.2,783.3 623.4,782.9 623.5,783.3 623.7,782.7 623.9,783.3 624.0,783.0 624.2,783.3 624.4,783.1 624.5,783.3 624.7,783.1 624.9,783.3 625.0,783.0 625.2,783.3 625.4,783.0 625.5,783.3 625.7,783.0 625.9,783.3 626.0,783.0 626.2,783.3 626.4,782.9 626.5,783.3 626.7,783.0 626.9,783.3 627.0,783.0 627.2,783.3 627.4,783.0 627.5,783.3 627.7,783.0 627.9,783.3 628.0,782.9 628.2,783.3 628.4,782.9 628.5,783.3 628.7,783.0 628.9,783.3 629.0,782.9 629.2,783.3 629.4,782.9 629.6,783.3 629.7,782.8 629.9,783.3 630.1,783.0 630.2,783.3 630.4,783.0 630.6,783.3 630.7,783.0 630.9,783.3 631.1,782.8 631.2,783.3 631.4,783.0 631.6,783.3 631.7,783.0 631.9,783.3 632.1,782.9 632.2,783.3 632.4,783.0 632.6,783.3 632.7,783.0 632.9,783.3 633.1,783.0 633.2,783.3 633.4,783.1 633.6,783.3 633.7,783.0 633.9,783.3 634.1,782.9 634.2,783.3 634.4,783.1 634.6,783.3 634.7,782.9 634.9,783.3 635.1,783.0 635.2,783.3 635.4,783.0 635.6,783.3 635.7,783.0 635.9,783.3 636.1,783.0 636.2,783.3 636.4,783.0 636.6,783.3 636.7,783.0 636.9,783.3 637.1,782.9 637.2,783.3 637.4,783.0 637.6,783.3 637.7,782.8 637.9,783.3 638.1,783.1 638.2,783.3 638.4,782.9 638.6,783.3 638.7,783.1 638.9,783.3 639.1,782.9 639.2,783.3 639.4,782.9 639.6,783.3 639.7,782.9 639.9,783.3 640.1,782.9 640.2,783.3 640.4,783.0 640.6,783.3 640.7,782.8 640.9,783.3 641.1,783.0 641.2,783.3 641.4,783.0 641.6,783.3 641.7,782.8 641.9,783.3 642.1,783.0 642.2,783.3 642.4,783.0 642.6,783.3 642.7,783.1 642.9,783.3 643.1,783.0 643.2,783.3 643.4,783.0 643.6,783.3 643.7,783.1 643.9,783.3 644.1,782.9 644.2,783.3 644.4,783.1 644.6,783.3 644.8,783.0 644.9,783.3 645.1,782.8 645.3,783.3 645.4,783.0 645.6,783.3 645.8,783.0 645.9,783.3 646.1,782.9 646.3,783.3 646.4,782.9 646.6,783.3 646.8,782.9 646.9,783.3 647.1,783.0 647.3,783.3 647.4,783.0 647.6,783.3 647.8,783.0 647.9,783.3 648.1,783.0 648.3,783.3 648.4,782.9 648.6,783.3 648.8,783.0 648.9,783.3 649.1,782.8 649.3,783.3 649.4,783.0 649.6,783.3 649.8,783.0 649.9,783.3 650.1,782.9 650.3,783.3 650.4,783.1 650.6,783.3 650.8,782.8 650.9,783.3 651.1,783.1 651.3,783.3 651.4,782.8 651.6,783.3 651.8,782.9 651.9,783.3 652.1,782.8 652.3,783.3 652.4,783.0 652.6,783.3 652.8,783.0 652.9,783.3 653.1,783.0 653.3,783.3 653.4,782.9 653.6,783.3 653.8,782.9 653.9,783.3 654.1,782.9 654.3,783.3 654.4,782.8 654.6,783.3 654.8,782.9 654.9,783.3 655.1,783.0 655.3,783.3 655.4,782.9 655.6,783.3 655.8,782.9 655.9,783.3 656.1,782.9 656.3,783.3 656.4,782.9 656.6,783.3 656.8,783.0 656.9,783.3 657.1,783.0 657.3,783.3 657.4,782.9 657.6,783.3 657.8,782.9 657.9,783.3 658.1,783.0 658.3,783.3 658.4,782.8 658.6,783.3 658.8,782.8 658.9,783.3 659.1,783.0 659.3,783.3 659.5,782.9 659.6,783.3 659.8,783.0 660.0,783.3 660.1,782.9 660.3,783.3 660.5,782.9 660.6,783.3 660.8,782.9 661.0,783.3 661.1,782.8 661.3,783.3 661.5,782.9 661.6,783.3 661.8,782.7 662.0,783.3 662.1,783.0 662.3,783.3 662.5,783.0" stroke-width="1.2"/>
</g>
<rect x="339.4" y="449.5" width="321.4" height="334.2" fill="none" stroke="#989b9e" stroke-width="1.6" opacity="0.92"/>
<text x="523.2" y="741.8" font-family='"Liberation Sans", Arial, Helvetica, sans-serif' font-size="22.4" fill="#1c1c1c" stroke="#1c1c1c" stroke-width="0.3" text-anchor="middle">SE</text>
<polygon points="518.1,748.6 529.9,748.6 524.0,759.8" fill="#929dd3"/>
<text x="592.1" y="484" font-family='"Liberation Sans", Arial, Helvetica, sans-serif' font-size="28.8" fill="#7e8083" stroke="#7e8083" stroke-width="0.25">n=3</text>
<g filter="url(#b06)"><polygon points="346.8,513.2 359.6,496.7 372.5,513.2 359.6,529.7" fill="#9a9cb2" opacity="0.56"/>
<polygon points="372.5,513.2 385.3,496.7 398.1,513.2 385.3,529.7" fill="#9a9cb2" opacity="0.48"/>
<polygon points="398.1,513.2 411.0,496.7 423.9,513.2 411.0,529.7" fill="#9a9cb2" opacity="0.56"/>
<polygon points="423.9,513.2 436.7,496.7 449.6,513.2 436.7,529.7" fill="#9a9cb2" opacity="0.48"/>
<polygon points="449.6,513.2 462.4,496.7 475.2,513.2 462.4,529.7" fill="#9a9cb2" opacity="0.56"/>
<polygon points="475.2,513.2 488.1,496.7 501.0,513.2 488.1,529.7" fill="#9a9cb2" opacity="0.48"/>
<polygon points="346.8,549.9 359.6,533.4 372.5,549.9 359.6,566.4" fill="#9a9cb2" opacity="0.48"/>
<polygon points="372.5,549.9 385.3,533.4 398.1,549.9 385.3,566.4" fill="#9a9cb2" opacity="0.56"/>
<polygon points="398.1,549.9 411.0,533.4 423.9,549.9 411.0,566.4" fill="#9a9cb2" opacity="0.48"/>
<polygon points="423.9,549.9 436.7,533.4 449.6,549.9 436.7,566.4" fill="#9a9cb2" opacity="0.56"/>
<polygon points="449.6,549.9 462.4,533.4 475.2,549.9 462.4,566.4" fill="#9a9cb2" opacity="0.48"/>
<polygon points="475.2,549.9 488.1,533.4 501.0,549.9 488.1,566.4" fill="#9a9cb2" opacity="0.56"/>
<polygon points="346.8,586.7 359.6,570.2 372.5,586.7 359.6,603.2" fill="#9a9cb2" opacity="0.56"/>
<polygon points="372.5,586.7 385.3,570.2 398.1,586.7 385.3,603.2" fill="#9a9cb2" opacity="0.48"/>
<polygon points="398.1,586.7 411.0,570.2 423.9,586.7 411.0,603.2" fill="#9a9cb2" opacity="0.56"/>
<polygon points="423.9,586.7 436.7,570.2 449.6,586.7 436.7,603.2" fill="#9a9cb2" opacity="0.48"/>
<polygon points="449.6,586.7 462.4,570.2 475.2,586.7 462.4,603.2" fill="#9a9cb2" opacity="0.56"/>
<polygon points="475.2,586.7 488.1,570.2 501.0,586.7 488.1,603.2" fill="#9a9cb2" opacity="0.48"/>
<path d="M357.7 461.7 L385.3 491.7 M383.4 461.7 L411.0 491.7 M387.2 461.7 L359.6 491.7 M409.1 461.7 L436.7 491.7 M412.9 461.7 L385.3 491.7 M434.8 461.7 L462.4 491.7 M438.6 461.7 L411.0 491.7 M460.5 461.7 L488.1 491.7 M464.3 461.7 L436.7 491.7 M490.0 461.7 L462.4 491.7 M357.7 637.8 L385.3 608.2 M383.4 637.8 L411.0 608.2 M387.2 637.8 L359.6 608.2 M409.1 637.8 L436.7 608.2 M412.9 637.8 L385.3 608.2 M434.8 637.8 L462.4 608.2 M438.6 637.8 L411.0 608.2 M460.5 637.8 L488.1 608.2 M464.3 637.8 L436.7 608.2 M490.0 637.8 L462.4 608.2" stroke="#8592cc" stroke-width="1.7" fill="none" stroke-linecap="round" opacity="0.95"/>
<path d="M357.7 461.7 L385.3 491.7 M383.4 461.7 L411.0 491.7 M387.2 461.7 L359.6 491.7 M409.1 461.7 L436.7 491.7 M412.9 461.7 L385.3 491.7 M434.8 461.7 L462.4 491.7 M438.6 461.7 L411.0 491.7 M460.5 461.7 L488.1 491.7 M464.3 461.7 L436.7 491.7 M490.0 461.7 L462.4 491.7 M357.7 637.8 L385.3 608.2 M383.4 637.8 L411.0 608.2 M387.2 637.8 L359.6 608.2 M409.1 637.8 L436.7 608.2 M412.9 637.8 L385.3 608.2 M434.8 637.8 L462.4 608.2 M438.6 637.8 L411.0 608.2 M460.5 637.8 L488.1 608.2 M464.3 637.8 L436.7 608.2 M490.0 637.8 L462.4 608.2" stroke="#23243a" stroke-width="1.25" fill="none" stroke-dasharray="6.2 2.2 3.5 1.6" opacity="0.85"/>
<g fill="#23243a">
<circle cx="364.7" cy="469.4" r="1.45"/>
<circle cx="380.2" cy="486.1" r="1.45"/>
<circle cx="390.4" cy="469.4" r="1.45"/>
<circle cx="405.9" cy="486.1" r="1.45"/>
<circle cx="380.2" cy="469.4" r="1.45"/>
<circle cx="364.7" cy="486.1" r="1.45"/>
<circle cx="416.1" cy="469.4" r="1.45"/>
<circle cx="431.6" cy="486.1" r="1.45"/>
<circle cx="405.9" cy="469.4" r="1.45"/>
<circle cx="390.4" cy="486.1" r="1.45"/>
<circle cx="441.8" cy="469.4" r="1.45"/>
<circle cx="457.3" cy="486.1" r="1.45"/>
<circle cx="431.6" cy="469.4" r="1.45"/>
<circle cx="416.1" cy="486.1" r="1.45"/>
<circle cx="467.5" cy="469.4" r="1.45"/>
<circle cx="483.0" cy="486.1" r="1.45"/>
<circle cx="457.3" cy="469.4" r="1.45"/>
<circle cx="441.8" cy="486.1" r="1.45"/>
<circle cx="483.0" cy="469.4" r="1.45"/>
<circle cx="467.5" cy="486.1" r="1.45"/>
<circle cx="364.7" cy="630.3" r="1.45"/>
<circle cx="380.2" cy="613.7" r="1.45"/>
<circle cx="390.4" cy="630.3" r="1.45"/>
<circle cx="405.9" cy="613.7" r="1.45"/>
<circle cx="380.2" cy="630.3" r="1.45"/>
<circle cx="364.7" cy="613.7" r="1.45"/>
<circle cx="416.1" cy="630.3" r="1.45"/>
<circle cx="431.6" cy="613.7" r="1.45"/>
<circle cx="405.9" cy="630.3" r="1.45"/>
<circle cx="390.4" cy="613.7" r="1.45"/>
<circle cx="441.8" cy="630.3" r="1.45"/>
<circle cx="457.3" cy="613.7" r="1.45"/>
<circle cx="431.6" cy="630.3" r="1.45"/>
<circle cx="416.1" cy="613.7" r="1.45"/>
<circle cx="467.5" cy="630.3" r="1.45"/>
<circle cx="483.0" cy="613.7" r="1.45"/>
<circle cx="457.3" cy="630.3" r="1.45"/>
<circle cx="441.8" cy="613.7" r="1.45"/>
<circle cx="483.0" cy="630.3" r="1.45"/>
<circle cx="467.5" cy="613.7" r="1.45"/>
<circle cx="357.7" cy="461.7" r="1.3"/>
<circle cx="383.4" cy="461.7" r="1.3"/>
<circle cx="387.2" cy="461.7" r="1.3"/>
<circle cx="409.1" cy="461.7" r="1.3"/>
<circle cx="412.9" cy="461.7" r="1.3"/>
<circle cx="434.8" cy="461.7" r="1.3"/>
<circle cx="438.6" cy="461.7" r="1.3"/>
<circle cx="460.5" cy="461.7" r="1.3"/>
<circle cx="464.3" cy="461.7" r="1.3"/>
<circle cx="490.0" cy="461.7" r="1.3"/>
<circle cx="357.7" cy="637.8" r="1.3"/>
<circle cx="383.4" cy="637.8" r="1.3"/>
<circle cx="387.2" cy="637.8" r="1.3"/>
<circle cx="409.1" cy="637.8" r="1.3"/>
<circle cx="412.9" cy="637.8" r="1.3"/>
<circle cx="434.8" cy="637.8" r="1.3"/>
<circle cx="438.6" cy="637.8" r="1.3"/>
<circle cx="460.5" cy="637.8" r="1.3"/>
<circle cx="464.3" cy="637.8" r="1.3"/>
<circle cx="490.0" cy="637.8" r="1.3"/>
</g>
<g stroke-linecap="round" fill="none">
<line x1="359.6" y1="491.7" x2="359.6" y2="608.2" stroke="#545c8c" stroke-width="1.5" opacity="0.8"/>
<line x1="359.6" y1="495.7" x2="359.6" y2="604.2" stroke="#23243a" stroke-width="0.9" opacity="0.55" stroke-dasharray="7 3"/>
<line x1="385.3" y1="491.7" x2="385.3" y2="608.2" stroke="#545c8c" stroke-width="1.5" opacity="0.8"/>
<line x1="385.3" y1="495.7" x2="385.3" y2="604.2" stroke="#23243a" stroke-width="0.9" opacity="0.55" stroke-dasharray="7 3"/>
<line x1="411.0" y1="491.7" x2="411.0" y2="608.2" stroke="#545c8c" stroke-width="1.5" opacity="0.8"/>
<line x1="411.0" y1="495.7" x2="411.0" y2="604.2" stroke="#23243a" stroke-width="0.9" opacity="0.55" stroke-dasharray="7 3"/>
<line x1="436.7" y1="491.7" x2="436.7" y2="608.2" stroke="#545c8c" stroke-width="1.5" opacity="0.8"/>
<line x1="436.7" y1="495.7" x2="436.7" y2="604.2" stroke="#23243a" stroke-width="0.9" opacity="0.55" stroke-dasharray="7 3"/>
<line x1="462.4" y1="491.7" x2="462.4" y2="608.2" stroke="#545c8c" stroke-width="1.5" opacity="0.8"/>
<line x1="462.4" y1="495.7" x2="462.4" y2="604.2" stroke="#23243a" stroke-width="0.9" opacity="0.55" stroke-dasharray="7 3"/>
<line x1="488.1" y1="491.7" x2="488.1" y2="608.2" stroke="#545c8c" stroke-width="1.5" opacity="0.8"/>
<line x1="488.1" y1="495.7" x2="488.1" y2="604.2" stroke="#23243a" stroke-width="0.9" opacity="0.55" stroke-dasharray="7 3"/>
<line x1="345.5" y1="513.2" x2="502.0" y2="513.2" stroke="#545c8c" stroke-width="2.3" opacity="0.9"/>
<line x1="348.5" y1="513.2" x2="499.0" y2="513.2" stroke="#23243a" stroke-width="1.0" opacity="0.55" stroke-dasharray="9 4"/>
<line x1="345.5" y1="549.9" x2="502.0" y2="549.9" stroke="#545c8c" stroke-width="2.3" opacity="0.9"/>
<line x1="348.5" y1="549.9" x2="499.0" y2="549.9" stroke="#23243a" stroke-width="1.0" opacity="0.55" stroke-dasharray="9 4"/>
<line x1="345.5" y1="586.7" x2="502.0" y2="586.7" stroke="#545c8c" stroke-width="2.3" opacity="0.9"/>
<line x1="348.5" y1="586.7" x2="499.0" y2="586.7" stroke="#23243a" stroke-width="1.0" opacity="0.55" stroke-dasharray="9 4"/>
</g>
<g fill="#8592cc" opacity="0.95">
<ellipse cx="346.8" cy="513.2" rx="1.5" ry="2.0"/>
<ellipse cx="372.5" cy="513.2" rx="1.5" ry="2.0"/>
<ellipse cx="398.1" cy="513.2" rx="1.5" ry="2.0"/>
<ellipse cx="423.9" cy="513.2" rx="1.5" ry="2.0"/>
<ellipse cx="449.6" cy="513.2" rx="1.5" ry="2.0"/>
<ellipse cx="475.2" cy="513.2" rx="1.5" ry="2.0"/>
<ellipse cx="501.0" cy="513.2" rx="1.5" ry="2.0"/>
<ellipse cx="346.8" cy="549.9" rx="1.5" ry="2.0"/>
<ellipse cx="372.5" cy="549.9" rx="1.5" ry="2.0"/>
<ellipse cx="398.1" cy="549.9" rx="1.5" ry="2.0"/>
<ellipse cx="423.9" cy="549.9" rx="1.5" ry="2.0"/>
<ellipse cx="449.6" cy="549.9" rx="1.5" ry="2.0"/>
<ellipse cx="475.2" cy="549.9" rx="1.5" ry="2.0"/>
<ellipse cx="501.0" cy="549.9" rx="1.5" ry="2.0"/>
<ellipse cx="346.8" cy="586.7" rx="1.5" ry="2.0"/>
<ellipse cx="372.5" cy="586.7" rx="1.5" ry="2.0"/>
<ellipse cx="398.1" cy="586.7" rx="1.5" ry="2.0"/>
<ellipse cx="423.9" cy="586.7" rx="1.5" ry="2.0"/>
<ellipse cx="449.6" cy="586.7" rx="1.5" ry="2.0"/>
<ellipse cx="475.2" cy="586.7" rx="1.5" ry="2.0"/>
<ellipse cx="501.0" cy="586.7" rx="1.5" ry="2.0"/>
<circle cx="359.6" cy="494.5" r="1.6"/>
<circle cx="359.6" cy="605.4" r="1.6"/>
<circle cx="385.3" cy="494.5" r="1.6"/>
<circle cx="385.3" cy="605.4" r="1.6"/>
<circle cx="411.0" cy="494.5" r="1.6"/>
<circle cx="411.0" cy="605.4" r="1.6"/>
<circle cx="436.7" cy="494.5" r="1.6"/>
<circle cx="436.7" cy="605.4" r="1.6"/>
<circle cx="462.4" cy="494.5" r="1.6"/>
<circle cx="462.4" cy="605.4" r="1.6"/>
<circle cx="488.1" cy="494.5" r="1.6"/>
<circle cx="488.1" cy="605.4" r="1.6"/>
</g>
<g stroke="#8592cc" stroke-width="1.5" opacity="0.9">
<line x1="353.1" y1="531.5" x2="356.6" y2="531.5"/>
<line x1="360.6" y1="531.5" x2="363.6" y2="531.5"/>
<line x1="378.8" y1="531.5" x2="382.3" y2="531.5"/>
<line x1="386.3" y1="531.5" x2="389.3" y2="531.5"/>
<line x1="404.5" y1="531.5" x2="408.0" y2="531.5"/>
<line x1="412.0" y1="531.5" x2="415.0" y2="531.5"/>
<line x1="430.2" y1="531.5" x2="433.7" y2="531.5"/>
<line x1="437.7" y1="531.5" x2="440.7" y2="531.5"/>
<line x1="455.9" y1="531.5" x2="459.4" y2="531.5"/>
<line x1="463.4" y1="531.5" x2="466.4" y2="531.5"/>
<line x1="481.6" y1="531.5" x2="485.1" y2="531.5"/>
<line x1="489.1" y1="531.5" x2="492.1" y2="531.5"/>
<line x1="353.1" y1="568.3" x2="356.6" y2="568.3"/>
<line x1="360.6" y1="568.3" x2="363.6" y2="568.3"/>
<line x1="378.8" y1="568.3" x2="382.3" y2="568.3"/>
<line x1="386.3" y1="568.3" x2="389.3" y2="568.3"/>
<line x1="404.5" y1="568.3" x2="408.0" y2="568.3"/>
<line x1="412.0" y1="568.3" x2="415.0" y2="568.3"/>
<line x1="430.2" y1="568.3" x2="433.7" y2="568.3"/>
<line x1="437.7" y1="568.3" x2="440.7" y2="568.3"/>
<line x1="455.9" y1="568.3" x2="459.4" y2="568.3"/>
<line x1="463.4" y1="568.3" x2="466.4" y2="568.3"/>
<line x1="481.6" y1="568.3" x2="485.1" y2="568.3"/>
<line x1="489.1" y1="568.3" x2="492.1" y2="568.3"/>
</g></g>
<rect x="674.6" y="449.5" width="321.2" height="334.2" fill="#fff"/>
<g stroke="#8b8f92" stroke-width="1.1">
<line x1="689.2" y1="783.7" x2="689.2" y2="788.1"/>
<line x1="724.0" y1="783.7" x2="724.0" y2="786.7"/>
<line x1="758.8" y1="783.7" x2="758.8" y2="788.1"/>
<line x1="793.6" y1="783.7" x2="793.6" y2="786.7"/>
<line x1="828.4" y1="783.7" x2="828.4" y2="788.1"/>
<line x1="863.2" y1="783.7" x2="863.2" y2="786.7"/>
<line x1="898.0" y1="783.7" x2="898.0" y2="788.1"/>
<line x1="932.8" y1="783.7" x2="932.8" y2="786.7"/>
<line x1="967.6" y1="783.7" x2="967.6" y2="788.1"/>
</g>
<g font-family='"Liberation Sans", Arial, Helvetica, sans-serif' font-size="21.3" fill="#262626" stroke="#262626" stroke-width="0.35" text-anchor="middle">
<text x="689.4" y="809.2">650</text>
<text x="759.0" y="809.2">700</text>
<text x="828.6" y="809.2">750</text>
<text x="898.2" y="809.2">800</text>
<text x="967.8" y="809.2">850</text>
<text x="834.9" y="843" font-size="21.7">Wavelength (nm)</text>
</g>
<clipPath id="clip3"><rect x="674.6" y="449.5" width="321.2" height="335.4"/></clipPath>
<g clip-path="url(#clip3)" fill="none" stroke="#8fcaa6" stroke-linejoin="round">
<polyline points="675.3,783.3 676.7,783.3 678.1,783.3 679.5,783.3 680.8,783.3 682.2,783.3 683.6,783.3 685.0,783.3 686.4,783.3 687.8,783.3 689.2,783.3 690.6,783.3 692.0,783.3 693.4,783.3 694.8,783.3 696.2,783.3 697.6,783.3 698.9,783.3 700.3,783.3 701.7,783.3 703.1,783.3 704.5,783.3 705.9,783.3 707.3,783.3 708.7,783.3 710.1,783.3 711.5,783.3 712.9,783.3 714.3,783.3 715.6,783.3 717.0,783.3 718.4,783.3 719.8,783.3 721.2,783.3 722.6,783.3 724.0,783.3 725.4,783.3 726.8,783.3 728.2,783.3 729.6,783.3 731.0,783.3 732.4,783.3 733.7,783.3 735.1,783.3 736.5,783.3 737.9,783.3 739.3,783.3 740.7,783.3 742.1,783.3 743.5,783.3 744.9,783.3 746.3,783.3 747.7,783.3 749.1,783.3 750.4,783.3 751.8,783.3 753.2,783.3 754.6,783.3 756.0,783.3 757.4,783.3 758.8,783.3 760.2,783.3 761.6,783.3 763.0,783.3 764.4,783.3 765.8,783.3 767.2,783.3 768.5,783.3 769.9,783.3 771.3,783.3 772.7,783.3 774.1,783.3 775.5,783.3 776.9,783.3 778.3,783.3 779.7,783.3 781.1,783.3 782.5,783.3 783.9,783.3 785.2,783.3 786.6,783.3 788.0,783.3 789.4,783.3 790.8,783.3 792.2,783.3 793.6,783.3 795.0,783.3 796.4,783.3 797.8,783.3 799.2,783.3 800.6,783.3 802.0,783.3 803.3,783.3 804.7,783.3 806.1,783.3 807.5,783.3 808.9,783.3 810.3,783.3 811.7,783.3 813.1,783.3 814.5,783.3 815.9,783.3 817.3,783.3 818.7,783.3 820.0,783.3 821.4,783.3 822.8,783.2 824.2,783.2 825.6,783.2 827.0,783.2 828.4,783.2 829.8,783.2 831.2,783.2 832.6,783.1 834.0,783.1 835.4,783.1 836.8,783.0 838.1,783.0 839.5,782.9 840.9,782.9 842.3,782.8 843.7,782.8 845.1,782.7 846.5,782.6 847.9,782.5 849.3,782.4 850.7,782.3 852.1,782.2 853.5,782.1 854.8,781.9 856.2,781.8 857.6,781.6 859.0,781.4 860.4,781.2 861.8,781.0 863.2,780.8 864.6,780.6 866.0,780.3 867.4,780.0 868.8,779.7 870.2,779.4 871.6,779.1 872.9,778.8 874.3,778.4 875.7,778.0 877.1,777.7 878.5,777.3 879.9,776.9 881.3,776.5 882.7,776.0 884.1,775.6 885.5,775.2 886.9,774.7 888.3,774.3 889.6,773.8 891.0,773.4 892.4,773.0 893.8,772.6 895.2,772.2 896.6,771.8 898.0,771.4 899.4,771.0 900.8,770.7 902.2,770.3 903.6,770.1 905.0,769.8 906.4,769.5 907.7,769.3 909.1,769.2 910.5,769.0 911.9,768.9 913.3,768.8 914.7,768.8 916.1,768.8 917.5,768.8 918.9,768.9 920.3,769.0 921.7,769.2 923.1,769.3 924.4,769.5 925.8,769.8 927.2,770.1 928.6,770.3 930.0,770.7 931.4,771.0 932.8,771.4 934.2,771.8 935.6,772.2 937.0,772.6 938.4,773.0 939.8,773.4 941.2,773.8 942.5,774.3 943.9,774.7 945.3,775.2 946.7,775.6 948.1,776.0 949.5,776.5 950.9,776.9 952.3,777.3 953.7,777.7 955.1,778.0 956.5,778.4 957.9,778.8 959.2,779.1 960.6,779.4 962.0,779.7 963.4,780.0 964.8,780.3 966.2,780.6 967.6,780.8 969.0,781.0 970.4,781.2 971.8,781.4 973.2,781.6 974.6,781.8 976.0,781.9 977.3,782.1 978.7,782.2 980.1,782.3 981.5,782.4 982.9,782.5 984.3,782.6 985.7,782.7 987.1,782.8 988.5,782.8 989.9,782.9 991.3,782.9 992.7,783.0 994.0,783.0 995.4,783.1 996.8,783.1 998.2,783.1 999.6,783.2 1001.0,783.2" stroke-width="1.9"/>
<polyline points="918.9,782.7 919.0,773.2 919.2,783.0 919.4,766.9 919.5,783.1 919.7,773.5 919.9,782.9 920.0,772.3 920.2,781.9 920.4,773.0 920.6,782.9 920.7,771.2 920.9,782.4 921.1,767.6 921.2,783.1 921.4,773.3 921.6,781.7 921.7,768.3 921.9,781.9 922.1,770.3 922.2,783.0 922.4,774.2 922.6,783.0 922.7,768.5 922.9,781.9 923.1,774.0 923.2,782.9 923.4,776.0 923.6,783.2 923.7,775.8 923.9,782.5 924.1,769.5 924.2,783.1 924.4,774.3 924.6,783.2 924.7,767.9 924.9,782.5 925.1,772.9 925.2,782.0 925.4,776.1 925.6,783.1 925.7,774.3 925.9,782.2 926.1,770.3 926.2,782.5 926.4,774.5 926.6,782.2 926.7,776.5 926.9,782.9 927.1,775.6 927.2,782.8 927.4,773.5 927.6,782.6 927.7,772.5 927.9,783.0 928.1,772.6 928.2,782.9 928.4,769.9 928.6,783.1 928.7,769.7 928.9,782.2 929.1,771.8 929.2,782.7 929.4,770.2 929.6,783.1 929.7,776.0 929.9,782.1 930.1,772.7 930.2,783.0 930.4,769.6 930.6,783.2 930.7,773.3 930.9,782.7 931.1,770.2 931.2,782.5 931.4,774.1 931.6,782.6 931.7,775.7 931.9,782.4 932.1,771.6 932.2,782.8 932.4,773.7 932.6,782.2 932.7,773.6 932.9,782.5 933.1,772.4 933.2,783.0 933.4,773.4 933.6,782.2 933.7,773.1 933.9,783.2 934.1,774.7 934.2,782.8 934.4,775.2 934.6,782.5 934.7,776.2 934.9,782.0 935.1,773.5 935.2,782.8 935.4,768.8 935.6,783.0 935.8,771.9 935.9,782.4 936.1,774.6 936.3,782.2 936.4,776.1 936.6,782.9 936.8,774.0 936.9,782.6 937.1,775.5 937.3,782.4 937.4,775.9 937.6,782.6 937.8,774.0 937.9,782.2 938.1,774.8 938.3,783.1 938.4,774.8 938.6,782.2 938.8,771.7 938.9,783.2 939.1,775.1 939.3,782.9 939.4,770.3 939.6,782.2 939.8,775.5 939.9,782.6 940.1,775.4 940.3,781.3 940.4,771.8 940.6,776.5 940.8,760.4 940.9,764.6 941.1,755.6 941.2,761.1 941.3,756.2 941.4,766.8 941.6,764.9 941.8,778.0 941.9,764.6 942.1,768.9 942.3,755.1 942.4,752.5 942.5,744.4 942.6,751.2 942.8,750.9 942.9,765.3 943.1,767.9 943.3,774.4 943.4,758.3 943.6,750.4 943.8,731.8 943.9,731.1 943.9,728.3 944.1,736.8 944.3,745.5 944.4,764.6 944.6,747.3 944.8,730.8 944.9,711.4 945.0,711.2 945.1,710.0 945.3,724.2 945.4,738.6 945.6,746.8 945.8,711.4 945.9,677.2 946.1,652.9 946.2,653.3 946.3,658.7 946.4,688.6 946.6,722.4 946.8,708.1 946.9,648.3 947.1,594.3 947.3,570.9 947.3,571.3 947.4,594.0 947.6,649.5 947.8,705.4 947.9,697.2 948.1,627.7 948.3,570.5 948.4,557.1 948.4,560.7 948.6,605.3 948.8,675.6 948.9,730.0 949.1,728.2 949.3,668.9 949.4,605.4 949.6,569.7 949.6,569.3 949.8,588.3 949.9,647.8 950.1,708.5 950.3,747.0 950.5,695.4 950.6,629.8 950.8,572.2 950.9,559.3 951.0,562.5 951.1,607.4 951.3,675.0 951.5,733.4 951.6,722.8 951.8,668.2 952.0,601.8 952.1,566.1 952.1,565.1 952.3,584.9 952.5,643.9 952.6,709.9 952.8,700.3 953.0,633.9 953.1,568.4 953.3,547.3 953.3,548.0 953.5,587.2 953.6,657.7 953.8,669.4 954.0,599.2 954.1,530.2 954.3,486.2 954.4,480.3 954.5,486.2 954.6,530.2 954.8,599.1 955.0,669.5 955.1,713.1 955.3,649.8 955.5,582.1 955.6,553.3 955.6,553.1 955.8,582.5 956.0,649.0 956.1,715.5 956.3,721.7 956.5,667.0 956.6,598.3 956.8,551.1 956.9,544.0 957.0,551.1 957.1,598.4 957.3,666.8 957.5,719.7 957.6,717.1 957.8,651.6 958.0,587.8 958.1,559.0 958.1,559.3 958.3,587.2 958.5,653.2 958.6,714.8 958.8,741.4 959.0,687.7 959.1,621.3 959.3,570.4 959.4,563.3 959.5,570.4 959.6,621.3 959.8,686.8 960.0,726.8 960.1,677.8 960.3,631.1 960.5,605.2 960.5,605.3 960.6,618.3 960.8,662.4 961.0,709.0 961.1,735.6 961.3,699.2 961.5,672.5 961.6,661.8 961.6,663.5 961.8,679.4 962.0,713.2 962.1,738.0 962.3,756.5 962.5,729.0 962.6,706.4 962.8,689.0 962.9,689.1 963.0,691.7 963.1,715.0 963.3,734.0 963.5,762.9 963.6,754.7 963.8,742.4 964.0,723.2 964.1,723.3 964.1,719.2 964.3,731.7 964.5,742.2 964.6,763.5 964.8,763.6 965.0,775.8 965.2,760.1 965.3,758.0 965.5,741.9 965.7,742.8 965.7,737.7 965.8,747.6 966.0,750.0 966.2,769.0 966.3,765.6 966.5,780.9 966.7,774.3 966.8,782.8 967.0,770.1 967.2,783.1 967.3,774.0 967.5,781.3 967.7,775.9 967.8,775.4 968.0,764.0 968.2,764.5 968.3,756.3 968.4,759.9 968.5,756.2 968.7,763.1 968.8,765.2 969.0,773.8 969.2,773.4 969.3,780.8 969.5,774.7 969.7,782.9 969.8,778.0 970.0,782.6 970.2,778.3 970.3,783.0 970.5,777.0 970.7,783.2 970.8,776.1 971.0,782.9 971.2,776.0 971.3,783.1 971.5,778.9 971.7,782.9 971.8,778.1 972.0,783.0 972.2,775.6 972.3,782.9 972.5,776.8 972.7,782.8 972.8,776.3 973.0,783.0 973.2,774.2 973.3,783.2 973.5,779.7 973.7,783.0 973.8,779.1 974.0,782.9 974.2,778.0 974.3,783.2 974.5,779.3 974.7,782.7 974.8,777.6 975.0,782.8 975.2,779.2 975.3,783.2 975.5,777.0 975.7,782.8 975.8,779.3 976.0,782.5 976.2,777.2 976.3,782.7 976.5,776.2 976.7,782.8 976.8,776.9 977.0,782.8 977.2,777.8 977.3,783.2 977.5,773.7 977.7,783.3 977.8,775.9 978.0,782.5 978.2,774.3 978.3,782.9 978.5,773.9 978.7,782.7 978.8,777.0 979.0,782.4 979.2,777.0 979.3,781.2 979.5,772.6 979.7,779.0 979.8,771.8 980.0,775.2 980.2,767.7 980.4,771.6 980.5,766.2 980.5,771.1 980.7,764.8 980.9,772.2 981.0,767.4 981.2,776.5 981.4,772.2 981.5,780.6 981.7,773.7 981.9,781.8 982.0,774.3 982.2,779.7 982.4,771.6 982.5,776.1 982.7,767.8 982.9,771.9 983.0,765.8 983.2,769.8 983.2,764.3 983.4,770.0 983.5,766.3 983.7,773.9 983.9,769.2 984.0,778.7 984.2,771.9 984.4,781.0 984.5,776.1 984.7,782.0 984.9,777.5 985.0,782.4 985.2,776.9 985.4,781.3 985.5,774.7 985.7,778.7 985.9,768.6 986.0,775.9 986.2,767.6 986.4,773.6 986.4,768.4 986.5,774.4 986.7,767.7 986.9,776.3 987.0,773.5 987.2,779.8 987.4,775.6 987.5,781.9 987.7,776.3 987.9,782.2 988.0,774.0 988.2,782.2 988.4,776.8 988.5,782.9 988.7,775.9 988.9,782.3 989.0,775.6 989.2,783.1 989.4,776.3 989.5,782.9 989.7,774.3 989.9,783.2 990.0,782.0 990.2,783.2 990.4,782.0 990.5,783.2 990.7,781.3 990.9,783.2 991.0,781.7 991.2,783.2 991.4,781.2 991.5,783.2 991.7,781.0 991.9,783.1 992.0,782.1 992.2,783.2 992.4,781.7 992.5,783.2 992.7,781.6 992.9,783.2 993.0,782.1 993.2,783.1 993.4,781.6 993.5,783.1 993.7,781.6 993.9,783.2 994.0,781.8 994.2,783.2 994.4,782.0 994.5,783.3 994.7,782.1 994.9,783.1 995.1,781.6 995.2,783.1 995.4,781.7 995.6,783.1 995.7,781.0 995.9,783.1 996.1,781.4 996.2,783.3 996.4,782.0 996.6,783.2 996.7,781.5 996.9,783.3 997.1,781.9 997.2,783.3 997.4,781.3 997.6,783.2 997.7,781.7 997.9,783.2 998.1,780.9" stroke-width="1.2"/>
</g>
<rect x="674.6" y="449.5" width="321.2" height="334.2" fill="none" stroke="#989b9e" stroke-width="1.6" opacity="0.92"/>
<text x="918.8" y="740.4" font-family='"Liberation Sans", Arial, Helvetica, sans-serif' font-size="22.4" fill="#1c1c1c" stroke="#1c1c1c" stroke-width="0.3" text-anchor="middle">SE</text>
<polygon points="913.2,748.4 925.0,748.4 919.1,759.6" fill="#8fcaa6"/>
<text x="930.6" y="484" font-family='"Liberation Sans", Arial, Helvetica, sans-serif' font-size="28.8" fill="#7e8083" stroke="#7e8083" stroke-width="0.25">n=4</text>
<g filter="url(#b06)"><polygon points="682.0,512.2 694.2,496.7 706.4,512.2 694.2,527.7" fill="#9caea4" opacity="0.56"/>
<polygon points="706.4,512.2 718.6,496.7 730.8,512.2 718.6,527.7" fill="#9caea4" opacity="0.48"/>
<polygon points="730.8,512.2 743.0,496.7 755.2,512.2 743.0,527.7" fill="#9caea4" opacity="0.56"/>
<polygon points="755.2,512.2 767.4,496.7 779.6,512.2 767.4,527.7" fill="#9caea4" opacity="0.48"/>
<polygon points="779.6,512.2 791.8,496.7 804.0,512.2 791.8,527.7" fill="#9caea4" opacity="0.56"/>
<polygon points="804.0,512.2 816.2,496.7 828.4,512.2 816.2,527.7" fill="#9caea4" opacity="0.48"/>
<polygon points="682.0,546.4 694.2,530.9 706.4,546.4 694.2,561.9" fill="#9caea4" opacity="0.48"/>
<polygon points="706.4,546.4 718.6,530.9 730.8,546.4 718.6,561.9" fill="#9caea4" opacity="0.56"/>
<polygon points="730.8,546.4 743.0,530.9 755.2,546.4 743.0,561.9" fill="#9caea4" opacity="0.48"/>
<polygon points="755.2,546.4 767.4,530.9 779.6,546.4 767.4,561.9" fill="#9caea4" opacity="0.56"/>
<polygon points="779.6,546.4 791.8,530.9 804.0,546.4 791.8,561.9" fill="#9caea4" opacity="0.48"/>
<polygon points="804.0,546.4 816.2,530.9 828.4,546.4 816.2,561.9" fill="#9caea4" opacity="0.56"/>
<polygon points="682.0,580.6 694.2,565.1 706.4,580.6 694.2,596.1" fill="#9caea4" opacity="0.56"/>
<polygon points="706.4,580.6 718.6,565.1 730.8,580.6 718.6,596.1" fill="#9caea4" opacity="0.48"/>
<polygon points="730.8,580.6 743.0,565.1 755.2,580.6 743.0,596.1" fill="#9caea4" opacity="0.56"/>
<polygon points="755.2,580.6 767.4,565.1 779.6,580.6 767.4,596.1" fill="#9caea4" opacity="0.48"/>
<polygon points="779.6,580.6 791.8,565.1 804.0,580.6 791.8,596.1" fill="#9caea4" opacity="0.56"/>
<polygon points="804.0,580.6 816.2,565.1 828.4,580.6 816.2,596.1" fill="#9caea4" opacity="0.48"/>
<polygon points="682.0,614.7 694.2,599.2 706.4,614.7 694.2,630.2" fill="#9caea4" opacity="0.48"/>
<polygon points="706.4,614.7 718.6,599.2 730.8,614.7 718.6,630.2" fill="#9caea4" opacity="0.56"/>
<polygon points="730.8,614.7 743.0,599.2 755.2,614.7 743.0,630.2" fill="#9caea4" opacity="0.48"/>
<polygon points="755.2,614.7 767.4,599.2 779.6,614.7 767.4,630.2" fill="#9caea4" opacity="0.56"/>
<polygon points="779.6,614.7 791.8,599.2 804.0,614.7 791.8,630.2" fill="#9caea4" opacity="0.48"/>
<polygon points="804.0,614.7 816.2,599.2 828.4,614.7 816.2,630.2" fill="#9caea4" opacity="0.56"/>
<path d="M692.3 461.9 L718.6 491.7 M716.7 461.9 L743.0 491.7 M720.5 461.9 L694.2 491.7 M741.1 461.9 L767.4 491.7 M744.9 461.9 L718.6 491.7 M765.5 461.9 L791.8 491.7 M769.3 461.9 L743.0 491.7 M789.9 461.9 L816.2 491.7 M793.7 461.9 L767.4 491.7 M818.1 461.9 L791.8 491.7 M692.4 665.1 L718.6 635.2 M716.8 665.1 L743.0 635.2 M720.4 665.1 L694.2 635.2 M741.2 665.1 L767.4 635.2 M744.8 665.1 L718.6 635.2 M765.6 665.1 L791.8 635.2 M769.2 665.1 L743.0 635.2 M790.0 665.1 L816.2 635.2 M793.6 665.1 L767.4 635.2 M818.0 665.1 L791.8 635.2" stroke="#79bd94" stroke-width="1.7" fill="none" stroke-linecap="round" opacity="0.95"/>
<path d="M692.3 461.9 L718.6 491.7 M716.7 461.9 L743.0 491.7 M720.5 461.9 L694.2 491.7 M741.1 461.9 L767.4 491.7 M744.9 461.9 L718.6 491.7 M765.5 461.9 L791.8 491.7 M769.3 461.9 L743.0 491.7 M789.9 461.9 L816.2 491.7 M793.7 461.9 L767.4 491.7 M818.1 461.9 L791.8 491.7 M692.4 665.1 L718.6 635.2 M716.8 665.1 L743.0 635.2 M720.4 665.1 L694.2 635.2 M741.2 665.1 L767.4 635.2 M744.8 665.1 L718.6 635.2 M765.6 665.1 L791.8 635.2 M769.2 665.1 L743.0 635.2 M790.0 665.1 L816.2 635.2 M793.6 665.1 L767.4 635.2 M818.0 665.1 L791.8 635.2" stroke="#1d3326" stroke-width="1.25" fill="none" stroke-dasharray="6.2 2.2 3.5 1.6" opacity="0.85"/>
<g fill="#1d3326">
<circle cx="699.1" cy="469.5" r="1.45"/>
<circle cx="713.7" cy="486.2" r="1.45"/>
<circle cx="723.5" cy="469.5" r="1.45"/>
<circle cx="738.1" cy="486.2" r="1.45"/>
<circle cx="713.7" cy="469.5" r="1.45"/>
<circle cx="699.1" cy="486.2" r="1.45"/>
<circle cx="747.9" cy="469.5" r="1.45"/>
<circle cx="762.5" cy="486.2" r="1.45"/>
<circle cx="738.1" cy="469.5" r="1.45"/>
<circle cx="723.5" cy="486.2" r="1.45"/>
<circle cx="772.3" cy="469.5" r="1.45"/>
<circle cx="786.9" cy="486.2" r="1.45"/>
<circle cx="762.5" cy="469.5" r="1.45"/>
<circle cx="747.9" cy="486.2" r="1.45"/>
<circle cx="796.7" cy="469.5" r="1.45"/>
<circle cx="811.3" cy="486.2" r="1.45"/>
<circle cx="786.9" cy="469.5" r="1.45"/>
<circle cx="772.3" cy="486.2" r="1.45"/>
<circle cx="811.3" cy="469.5" r="1.45"/>
<circle cx="796.7" cy="486.2" r="1.45"/>
<circle cx="699.1" cy="657.4" r="1.45"/>
<circle cx="713.7" cy="640.8" r="1.45"/>
<circle cx="723.5" cy="657.4" r="1.45"/>
<circle cx="738.1" cy="640.8" r="1.45"/>
<circle cx="713.7" cy="657.4" r="1.45"/>
<circle cx="699.1" cy="640.8" r="1.45"/>
<circle cx="747.9" cy="657.4" r="1.45"/>
<circle cx="762.5" cy="640.8" r="1.45"/>
<circle cx="738.1" cy="657.4" r="1.45"/>
<circle cx="723.5" cy="640.8" r="1.45"/>
<circle cx="772.3" cy="657.4" r="1.45"/>
<circle cx="786.9" cy="640.8" r="1.45"/>
<circle cx="762.5" cy="657.4" r="1.45"/>
<circle cx="747.9" cy="640.8" r="1.45"/>
<circle cx="796.7" cy="657.4" r="1.45"/>
<circle cx="811.3" cy="640.8" r="1.45"/>
<circle cx="786.9" cy="657.4" r="1.45"/>
<circle cx="772.3" cy="640.8" r="1.45"/>
<circle cx="811.3" cy="657.4" r="1.45"/>
<circle cx="796.7" cy="640.8" r="1.45"/>
<circle cx="692.3" cy="461.9" r="1.3"/>
<circle cx="716.7" cy="461.9" r="1.3"/>
<circle cx="720.5" cy="461.9" r="1.3"/>
<circle cx="741.1" cy="461.9" r="1.3"/>
<circle cx="744.9" cy="461.9" r="1.3"/>
<circle cx="765.5" cy="461.9" r="1.3"/>
<circle cx="769.3" cy="461.9" r="1.3"/>
<circle cx="789.9" cy="461.9" r="1.3"/>
<circle cx="793.7" cy="461.9" r="1.3"/>
<circle cx="818.1" cy="461.9" r="1.3"/>
<circle cx="692.4" cy="665.1" r="1.3"/>
<circle cx="716.8" cy="665.1" r="1.3"/>
<circle cx="720.4" cy="665.1" r="1.3"/>
<circle cx="741.2" cy="665.1" r="1.3"/>
<circle cx="744.8" cy="665.1" r="1.3"/>
<circle cx="765.6" cy="665.1" r="1.3"/>
<circle cx="769.2" cy="665.1" r="1.3"/>
<circle cx="790.0" cy="665.1" r="1.3"/>
<circle cx="793.6" cy="665.1" r="1.3"/>
<circle cx="818.0" cy="665.1" r="1.3"/>
</g>
<g stroke-linecap="round" fill="none">
<line x1="694.2" y1="491.7" x2="694.2" y2="635.2" stroke="#4f7560" stroke-width="1.5" opacity="0.8"/>
<line x1="694.2" y1="495.7" x2="694.2" y2="631.2" stroke="#1d3326" stroke-width="0.9" opacity="0.55" stroke-dasharray="7 3"/>
<line x1="718.6" y1="491.7" x2="718.6" y2="635.2" stroke="#4f7560" stroke-width="1.5" opacity="0.8"/>
<line x1="718.6" y1="495.7" x2="718.6" y2="631.2" stroke="#1d3326" stroke-width="0.9" opacity="0.55" stroke-dasharray="7 3"/>
<line x1="743.0" y1="491.7" x2="743.0" y2="635.2" stroke="#4f7560" stroke-width="1.5" opacity="0.8"/>
<line x1="743.0" y1="495.7" x2="743.0" y2="631.2" stroke="#1d3326" stroke-width="0.9" opacity="0.55" stroke-dasharray="7 3"/>
<line x1="767.4" y1="491.7" x2="767.4" y2="635.2" stroke="#4f7560" stroke-width="1.5" opacity="0.8"/>
<line x1="767.4" y1="495.7" x2="767.4" y2="631.2" stroke="#1d3326" stroke-width="0.9" opacity="0.55" stroke-dasharray="7 3"/>
<line x1="791.8" y1="491.7" x2="791.8" y2="635.2" stroke="#4f7560" stroke-width="1.5" opacity="0.8"/>
<line x1="791.8" y1="495.7" x2="791.8" y2="631.2" stroke="#1d3326" stroke-width="0.9" opacity="0.55" stroke-dasharray="7 3"/>
<line x1="816.2" y1="491.7" x2="816.2" y2="635.2" stroke="#4f7560" stroke-width="1.5" opacity="0.8"/>
<line x1="816.2" y1="495.7" x2="816.2" y2="631.2" stroke="#1d3326" stroke-width="0.9" opacity="0.55" stroke-dasharray="7 3"/>
<line x1="681.5" y1="512.2" x2="831.0" y2="512.2" stroke="#4f7560" stroke-width="2.3" opacity="0.9"/>
<line x1="684.5" y1="512.2" x2="828.0" y2="512.2" stroke="#1d3326" stroke-width="1.0" opacity="0.55" stroke-dasharray="9 4"/>
<line x1="681.5" y1="546.4" x2="831.0" y2="546.4" stroke="#4f7560" stroke-width="2.3" opacity="0.9"/>
<line x1="684.5" y1="546.4" x2="828.0" y2="546.4" stroke="#1d3326" stroke-width="1.0" opacity="0.55" stroke-dasharray="9 4"/>
<line x1="681.5" y1="580.6" x2="831.0" y2="580.6" stroke="#4f7560" stroke-width="2.3" opacity="0.9"/>
<line x1="684.5" y1="580.6" x2="828.0" y2="580.6" stroke="#1d3326" stroke-width="1.0" opacity="0.55" stroke-dasharray="9 4"/>
<line x1="681.5" y1="614.7" x2="831.0" y2="614.7" stroke="#4f7560" stroke-width="2.3" opacity="0.9"/>
<line x1="684.5" y1="614.7" x2="828.0" y2="614.7" stroke="#1d3326" stroke-width="1.0" opacity="0.55" stroke-dasharray="9 4"/>
</g>
<g fill="#79bd94" opacity="0.95">
<ellipse cx="682.0" cy="512.2" rx="1.5" ry="2.0"/>
<ellipse cx="706.4" cy="512.2" rx="1.5" ry="2.0"/>
<ellipse cx="730.8" cy="512.2" rx="1.5" ry="2.0"/>
<ellipse cx="755.2" cy="512.2" rx="1.5" ry="2.0"/>
<ellipse cx="779.6" cy="512.2" rx="1.5" ry="2.0"/>
<ellipse cx="804.0" cy="512.2" rx="1.5" ry="2.0"/>
<ellipse cx="828.4" cy="512.2" rx="1.5" ry="2.0"/>
<ellipse cx="682.0" cy="546.4" rx="1.5" ry="2.0"/>
<ellipse cx="706.4" cy="546.4" rx="1.5" ry="2.0"/>
<ellipse cx="730.8" cy="546.4" rx="1.5" ry="2.0"/>
<ellipse cx="755.2" cy="546.4" rx="1.5" ry="2.0"/>
<ellipse cx="779.6" cy="546.4" rx="1.5" ry="2.0"/>
<ellipse cx="804.0" cy="546.4" rx="1.5" ry="2.0"/>
<ellipse cx="828.4" cy="546.4" rx="1.5" ry="2.0"/>
<ellipse cx="682.0" cy="580.6" rx="1.5" ry="2.0"/>
<ellipse cx="706.4" cy="580.6" rx="1.5" ry="2.0"/>
<ellipse cx="730.8" cy="580.6" rx="1.5" ry="2.0"/>
<ellipse cx="755.2" cy="580.6" rx="1.5" ry="2.0"/>
<ellipse cx="779.6" cy="580.6" rx="1.5" ry="2.0"/>
<ellipse cx="804.0" cy="580.6" rx="1.5" ry="2.0"/>
<ellipse cx="828.4" cy="580.6" rx="1.5" ry="2.0"/>
<ellipse cx="682.0" cy="614.7" rx="1.5" ry="2.0"/>
<ellipse cx="706.4" cy="614.7" rx="1.5" ry="2.0"/>
<ellipse cx="730.8" cy="614.7" rx="1.5" ry="2.0"/>
<ellipse cx="755.2" cy="614.7" rx="1.5" ry="2.0"/>
<ellipse cx="779.6" cy="614.7" rx="1.5" ry="2.0"/>
<ellipse cx="804.0" cy="614.7" rx="1.5" ry="2.0"/>
<ellipse cx="828.4" cy="614.7" rx="1.5" ry="2.0"/>
<circle cx="694.2" cy="494.5" r="1.6"/>
<circle cx="694.2" cy="632.4" r="1.6"/>
<circle cx="718.6" cy="494.5" r="1.6"/>
<circle cx="718.6" cy="632.4" r="1.6"/>
<circle cx="743.0" cy="494.5" r="1.6"/>
<circle cx="743.0" cy="632.4" r="1.6"/>
<circle cx="767.4" cy="494.5" r="1.6"/>
<circle cx="767.4" cy="632.4" r="1.6"/>
<circle cx="791.8" cy="494.5" r="1.6"/>
<circle cx="791.8" cy="632.4" r="1.6"/>
<circle cx="816.2" cy="494.5" r="1.6"/>
<circle cx="816.2" cy="632.4" r="1.6"/>
</g>
<g stroke="#79bd94" stroke-width="1.5" opacity="0.9">
<line x1="687.7" y1="529.3" x2="691.2" y2="529.3"/>
<line x1="695.2" y1="529.3" x2="698.2" y2="529.3"/>
<line x1="712.1" y1="529.3" x2="715.6" y2="529.3"/>
<line x1="719.6" y1="529.3" x2="722.6" y2="529.3"/>
<line x1="736.5" y1="529.3" x2="740.0" y2="529.3"/>
<line x1="744.0" y1="529.3" x2="747.0" y2="529.3"/>
<line x1="760.9" y1="529.3" x2="764.4" y2="529.3"/>
<line x1="768.4" y1="529.3" x2="771.4" y2="529.3"/>
<line x1="785.3" y1="529.3" x2="788.8" y2="529.3"/>
<line x1="792.8" y1="529.3" x2="795.8" y2="529.3"/>
<line x1="809.7" y1="529.3" x2="813.2" y2="529.3"/>
<line x1="817.2" y1="529.3" x2="820.2" y2="529.3"/>
<line x1="687.7" y1="563.5" x2="691.2" y2="563.5"/>
<line x1="695.2" y1="563.5" x2="698.2" y2="563.5"/>
<line x1="712.1" y1="563.5" x2="715.6" y2="563.5"/>
<line x1="719.6" y1="563.5" x2="722.6" y2="563.5"/>
<line x1="736.5" y1="563.5" x2="740.0" y2="563.5"/>
<line x1="744.0" y1="563.5" x2="747.0" y2="563.5"/>
<line x1="760.9" y1="563.5" x2="764.4" y2="563.5"/>
<line x1="768.4" y1="563.5" x2="771.4" y2="563.5"/>
<line x1="785.3" y1="563.5" x2="788.8" y2="563.5"/>
<line x1="792.8" y1="563.5" x2="795.8" y2="563.5"/>
<line x1="809.7" y1="563.5" x2="813.2" y2="563.5"/>
<line x1="817.2" y1="563.5" x2="820.2" y2="563.5"/>
<line x1="687.7" y1="597.7" x2="691.2" y2="597.7"/>
<line x1="695.2" y1="597.7" x2="698.2" y2="597.7"/>
<line x1="712.1" y1="597.7" x2="715.6" y2="597.7"/>
<line x1="719.6" y1="597.7" x2="722.6" y2="597.7"/>
<line x1="736.5" y1="597.7" x2="740.0" y2="597.7"/>
<line x1="744.0" y1="597.7" x2="747.0" y2="597.7"/>
<line x1="760.9" y1="597.7" x2="764.4" y2="597.7"/>
<line x1="768.4" y1="597.7" x2="771.4" y2="597.7"/>
<line x1="785.3" y1="597.7" x2="788.8" y2="597.7"/>
<line x1="792.8" y1="597.7" x2="795.8" y2="597.7"/>
<line x1="809.7" y1="597.7" x2="813.2" y2="597.7"/>
<line x1="817.2" y1="597.7" x2="820.2" y2="597.7"/>
</g></g>
</g>
</svg>
</body></html>
